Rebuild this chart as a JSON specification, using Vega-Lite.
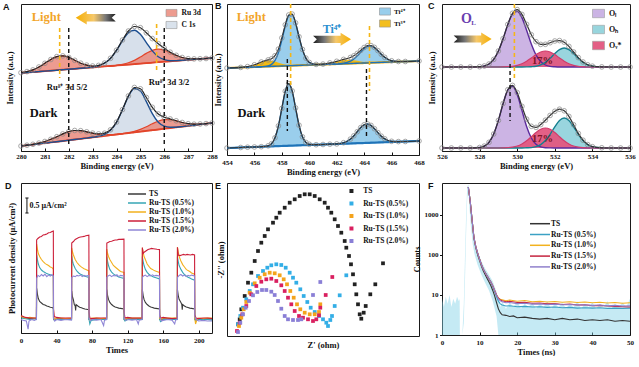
{
"$schema": "https://vega.github.io/schema/vega-lite/v6.json",
"background": "white",
"padding": {"left": 2, "top": 1, "right": 0, "bottom": 0},
"columns": 5,
"bounds": "flush",
"align": "each",
"spacing": {"row": 28, "column": 0},
"resolve": {"scale": {"color": "independent"}, "legend": {"color": "independent"}},
"config": {
  "font": "Liberation Serif",
  "view": {"stroke": "#1a1a1a", "strokeWidth": 1},
  "axis": {"domain": false, "grid": false, "labelFont": "Liberation Serif", "labelFontWeight": "bold", "labelFontSize": 7, "labelColor": "#111", "titleFont": "Liberation Serif", "titleFontWeight": "bold", "titleFontSize": 8.5, "titleColor": "#111", "tickColor": "#111", "tickSize": -3, "labelPadding": 4, "titlePadding": 2, "labelFlush": false, "labelOverlap": false},
  "legend": {"labelFont": "Liberation Serif", "labelFontWeight": "bold", "labelFontSize": 7.5, "labelColor": "#111", "padding": 0},
  "title": {"anchor": "start", "frame": "group", "font": "Liberation Sans", "fontSize": 9, "fontWeight": "bold", "color": "#111", "offset": -8},
  "text": {"font": "Liberation Serif", "fontWeight": "bold"}
},
"datasets": {
"a": [
{"x":280,"s":"L","b":76,"r1":76.3,"c":76,"r2":76,"e":76.3},
{"x":280.25,"s":"L","b":76.5,"r1":77.4,"c":76.5,"r2":76.5,"e":77.4},
{"x":280.5,"s":"L","b":76.9,"r1":79.1,"c":76.9,"r2":76.9,"e":79.1},
{"x":280.75,"s":"L","b":77.4,"r1":82,"c":77.4,"r2":77.4,"e":82},
{"x":281,"s":"L","b":77.9,"r1":85.7,"c":77.9,"r2":77.9,"e":85.7},
{"x":281.25,"s":"L","b":78.3,"r1":89.5,"c":78.3,"r2":78.3,"e":89.5},
{"x":281.5,"s":"L","b":78.8,"r1":92.4,"c":78.8,"r2":78.8,"e":92.4},
{"x":281.75,"s":"L","b":79.3,"r1":93.1,"c":79.3,"r2":79.3,"e":93.1},
{"x":282,"s":"L","b":79.8,"r1":91.6,"c":79.8,"r2":79.8,"e":91.6},
{"x":282.25,"s":"L","b":80.2,"r1":88.7,"c":80.2,"r2":80.2,"e":88.7},
{"x":282.5,"s":"L","b":80.7,"r1":85.8,"c":80.7,"r2":80.7,"e":85.8},
{"x":282.75,"s":"L","b":81.2,"r1":83.8,"c":81.3,"r2":81.2,"e":83.9},
{"x":283,"s":"L","b":81.6,"r1":82.7,"c":81.9,"r2":81.6,"e":83},
{"x":283.25,"s":"L","b":82.1,"r1":82.5,"c":83.2,"r2":82.1,"e":83.6},
{"x":283.5,"s":"L","b":82.6,"r1":82.7,"c":85.8,"r2":82.6,"e":85.9},
{"x":283.75,"s":"L","b":83,"r1":83,"c":90.7,"r2":83,"e":90.7},
{"x":284,"s":"L","b":83.5,"r1":83.5,"c":98.6,"r2":83.7,"e":98.8},
{"x":284.25,"s":"L","b":84,"r1":84,"c":108.3,"r2":84.7,"e":109},
{"x":284.5,"s":"L","b":84.4,"r1":84.4,"c":116.2,"r2":86.2,"e":118},
{"x":284.75,"s":"L","b":84.9,"r1":84.9,"c":118.8,"r2":88.6,"e":122.5},
{"x":285,"s":"L","b":85.4,"r1":85.4,"c":114.7,"r2":92,"e":121.3},
{"x":285.25,"s":"L","b":85.8,"r1":85.8,"c":106.4,"r2":95.6,"e":116.2},
{"x":285.5,"s":"L","b":86.3,"r1":86.3,"c":98.1,"r2":98.6,"e":110.4},
{"x":285.75,"s":"L","b":86.8,"r1":86.8,"c":92.3,"r2":99.8,"e":105.3},
{"x":286,"s":"L","b":87.3,"r1":87.3,"c":89.4,"r2":98.8,"e":100.9},
{"x":286.25,"s":"L","b":87.7,"r1":87.7,"c":88.3,"r2":96.2,"e":96.8},
{"x":286.5,"s":"L","b":88.2,"r1":88.2,"c":88.4,"r2":93.5,"e":93.7},
{"x":286.75,"s":"L","b":88.7,"r1":88.7,"c":88.7,"r2":91.5,"e":91.5},
{"x":287,"s":"L","b":89.1,"r1":89.1,"c":89.1,"r2":90.3,"e":90.3},
{"x":287.25,"s":"L","b":89.6,"r1":89.6,"c":89.6,"r2":90.1,"e":90.1},
{"x":287.5,"s":"L","b":90.1,"r1":90.1,"c":90.1,"r2":90.2,"e":90.2},
{"x":287.75,"s":"L","b":90.5,"r1":90.5,"c":90.5,"r2":90.5,"e":90.5},
{"x":288,"s":"L","b":91,"r1":91,"c":91,"r2":91,"e":91},
{"x":280,"s":"D","b":3,"r1":3,"c":3,"r2":3,"e":3},
{"x":280.25,"s":"D","b":3.7,"r1":3.8,"c":3.7,"r2":3.7,"e":3.8},
{"x":280.5,"s":"D","b":4.4,"r1":4.7,"c":4.4,"r2":4.4,"e":4.7},
{"x":280.75,"s":"D","b":5.2,"r1":5.9,"c":5.2,"r2":5.2,"e":5.9},
{"x":281,"s":"D","b":5.9,"r1":7.5,"c":5.9,"r2":5.9,"e":7.5},
{"x":281.25,"s":"D","b":6.6,"r1":9.7,"c":6.6,"r2":6.6,"e":9.7},
{"x":281.5,"s":"D","b":7.3,"r1":12.3,"c":7.3,"r2":7.3,"e":12.3},
{"x":281.75,"s":"D","b":8,"r1":15.1,"c":8,"r2":8,"e":15.1},
{"x":282,"s":"D","b":8.8,"r1":17.4,"c":8.8,"r2":8.8,"e":17.4},
{"x":282.25,"s":"D","b":9.5,"r1":18.5,"c":9.5,"r2":9.5,"e":18.5},
{"x":282.5,"s":"D","b":10.2,"r1":18.3,"c":10.2,"r2":10.2,"e":18.3},
{"x":282.75,"s":"D","b":10.9,"r1":17.2,"c":10.9,"r2":10.9,"e":17.2},
{"x":283,"s":"D","b":11.6,"r1":15.8,"c":11.7,"r2":11.6,"e":15.9},
{"x":283.25,"s":"D","b":12.3,"r1":14.7,"c":12.7,"r2":12.3,"e":15.1},
{"x":283.5,"s":"D","b":13.1,"r1":14.3,"c":14.6,"r2":13.1,"e":15.8},
{"x":283.75,"s":"D","b":13.8,"r1":14.3,"c":18.7,"r2":13.8,"e":19.2},
{"x":284,"s":"D","b":14.5,"r1":14.7,"c":26.7,"r2":14.5,"e":26.9},
{"x":284.25,"s":"D","b":15.2,"r1":15.3,"c":39.2,"r2":15.3,"e":39.4},
{"x":284.5,"s":"D","b":15.9,"r1":15.9,"c":52.7,"r2":16.3,"e":53.1},
{"x":284.75,"s":"D","b":16.7,"r1":16.7,"c":60.5,"r2":17.7,"e":61.5},
{"x":285,"s":"D","b":17.4,"r1":17.4,"c":58,"r2":19.6,"e":60.2},
{"x":285.25,"s":"D","b":18.1,"r1":18.1,"c":47.4,"r2":22.2,"e":51.5},
{"x":285.5,"s":"D","b":18.8,"r1":18.8,"c":35.3,"r2":25.2,"e":41.7},
{"x":285.75,"s":"D","b":19.5,"r1":19.5,"c":26.7,"r2":27.8,"e":35},
{"x":286,"s":"D","b":20.3,"r1":20.3,"c":22.8,"r2":29.3,"e":31.8},
{"x":286.25,"s":"D","b":21,"r1":21,"c":21.7,"r2":29.3,"e":30},
{"x":286.5,"s":"D","b":21.7,"r1":21.7,"c":21.8,"r2":28.1,"e":28.2},
{"x":286.75,"s":"D","b":22.4,"r1":22.4,"c":22.4,"r2":26.5,"e":26.5},
{"x":287,"s":"D","b":23.1,"r1":23.1,"c":23.1,"r2":25.3,"e":25.3},
{"x":287.25,"s":"D","b":23.8,"r1":23.8,"c":23.8,"r2":24.8,"e":24.8},
{"x":287.5,"s":"D","b":24.6,"r1":24.6,"c":24.6,"r2":25,"e":25},
{"x":287.75,"s":"D","b":25.3,"r1":25.3,"c":25.3,"r2":25.4,"e":25.4},
{"x":288,"s":"D","b":26,"r1":26,"c":26,"r2":26,"e":26}
],
"b": [
{"x":454,"s":"L","b":87,"t1":87,"t2":87,"r1":87,"r2":87,"e":87},
{"x":455,"s":"L","b":87.5,"t1":87.5,"t2":87.5,"r1":87.6,"r2":87.5,"e":87.6},
{"x":455.5,"s":"L","b":87.8,"t1":87.8,"t2":87.8,"r1":88.4,"r2":87.8,"e":88.4},
{"x":456,"s":"L","b":88,"t1":88,"t2":88,"r1":90.2,"r2":88,"e":90.2},
{"x":456.5,"s":"L","b":88.3,"t1":88.3,"t2":88.3,"r1":93,"r2":88.3,"e":93},
{"x":457,"s":"L","b":88.5,"t1":89.1,"t2":88.5,"r1":94.5,"r2":88.5,"e":95.1},
{"x":457.25,"s":"L","b":88.6,"t1":90.6,"t2":88.6,"r1":94.2,"r2":88.6,"e":96.2},
{"x":457.5,"s":"L","b":88.8,"t1":94.6,"t2":88.8,"r1":93.5,"r2":88.8,"e":99.3},
{"x":457.75,"s":"L","b":88.9,"t1":102.5,"t2":88.9,"r1":92.3,"r2":88.9,"e":105.9},
{"x":458,"s":"L","b":89,"t1":114.9,"t2":89,"r1":91.2,"r2":89,"e":117.1},
{"x":458.25,"s":"L","b":89.1,"t1":129,"t2":89.1,"r1":90.3,"r2":89.1,"e":130.2},
{"x":458.5,"s":"L","b":89.3,"t1":139.4,"t2":89.3,"r1":89.9,"r2":89.3,"e":140},
{"x":458.75,"s":"L","b":89.4,"t1":140.6,"t2":89.4,"r1":89.7,"r2":89.4,"e":140.9},
{"x":459,"s":"L","b":89.5,"t1":132,"t2":89.5,"r1":89.6,"r2":89.5,"e":132.1},
{"x":459.25,"s":"L","b":89.6,"t1":118.3,"t2":89.6,"r1":89.6,"r2":89.6,"e":118.3},
{"x":459.5,"s":"L","b":89.8,"t1":105.6,"t2":89.8,"r1":89.8,"r2":89.8,"e":105.6},
{"x":459.75,"s":"L","b":89.9,"t1":96.9,"t2":89.9,"r1":89.9,"r2":89.9,"e":96.9},
{"x":460,"s":"L","b":90,"t1":92.6,"t2":90,"r1":90,"r2":90,"e":92.6},
{"x":460.5,"s":"L","b":90.3,"t1":90.5,"t2":90.3,"r1":90.3,"r2":90.4,"e":90.6},
{"x":461,"s":"L","b":90.5,"t1":90.5,"t2":90.5,"r1":90.5,"r2":90.9,"e":90.9},
{"x":461.5,"s":"L","b":90.8,"t1":90.8,"t2":90.8,"r1":90.8,"r2":92.1,"e":92.1},
{"x":462,"s":"L","b":91,"t1":91,"t2":91,"r1":91,"r2":93.7,"e":93.7},
{"x":462.5,"s":"L","b":91.3,"t1":91.3,"t2":91.7,"r1":91.3,"r2":95.2,"e":95.6},
{"x":463,"s":"L","b":91.5,"t1":91.5,"t2":93.8,"r1":91.5,"r2":95.2,"e":97.5},
{"x":463.25,"s":"L","b":91.6,"t1":91.6,"t2":96,"r1":91.6,"r2":94.8,"e":99.2},
{"x":463.5,"s":"L","b":91.8,"t1":91.8,"t2":99.2,"r1":91.8,"r2":94.2,"e":101.6},
{"x":463.75,"s":"L","b":91.9,"t1":91.9,"t2":102.9,"r1":91.9,"r2":93.6,"e":104.6},
{"x":464,"s":"L","b":92,"t1":92,"t2":106.4,"r1":92,"r2":93.1,"e":107.5},
{"x":464.25,"s":"L","b":92.1,"t1":92.1,"t2":108.7,"r1":92.1,"r2":92.7,"e":109.3},
{"x":464.5,"s":"L","b":92.3,"t1":92.3,"t2":109.1,"r1":92.3,"r2":92.6,"e":109.4},
{"x":464.75,"s":"L","b":92.4,"t1":92.4,"t2":107.4,"r1":92.4,"r2":92.6,"e":107.6},
{"x":465,"s":"L","b":92.5,"t1":92.5,"t2":104.3,"r1":92.5,"r2":92.6,"e":104.4},
{"x":465.25,"s":"L","b":92.6,"t1":92.6,"t2":100.7,"r1":92.6,"r2":92.6,"e":100.7},
{"x":465.5,"s":"L","b":92.8,"t1":92.8,"t2":97.7,"r1":92.8,"r2":92.8,"e":97.7},
{"x":466,"s":"L","b":93,"t1":93,"t2":94.2,"r1":93,"r2":93,"e":94.2},
{"x":466.5,"s":"L","b":93.3,"t1":93.3,"t2":93.5,"r1":93.3,"r2":93.3,"e":93.5},
{"x":467,"s":"L","b":93.5,"t1":93.5,"t2":93.5,"r1":93.5,"r2":93.5,"e":93.5},
{"x":468,"s":"L","b":94,"t1":94,"t2":94,"r1":94,"r2":94,"e":94},
{"x":454,"s":"D","b":7,"t1":7,"t2":7,"e":7},
{"x":455,"s":"D","b":7.5,"t1":7.5,"t2":7.5,"e":7.5},
{"x":455.5,"s":"D","b":7.8,"t1":7.8,"t2":7.8,"e":7.8},
{"x":456,"s":"D","b":8,"t1":8,"t2":8,"e":8},
{"x":456.5,"s":"D","b":8.3,"t1":8.3,"t2":8.3,"e":8.3},
{"x":457,"s":"D","b":8.5,"t1":9.2,"t2":8.5,"e":9.2},
{"x":457.25,"s":"D","b":8.6,"t1":11.3,"t2":8.6,"e":11.3},
{"x":457.5,"s":"D","b":8.8,"t1":17.2,"t2":8.8,"e":17.2},
{"x":457.75,"s":"D","b":8.9,"t1":29.1,"t2":8.9,"e":29.1},
{"x":458,"s":"D","b":9,"t1":46.6,"t2":9,"e":46.6},
{"x":458.25,"s":"D","b":9.1,"t1":63.8,"t2":9.1,"e":63.8},
{"x":458.5,"s":"D","b":9.3,"t1":71.3,"t2":9.3,"e":71.3},
{"x":458.75,"s":"D","b":9.4,"t1":64.1,"t2":9.4,"e":64.1},
{"x":459,"s":"D","b":9.5,"t1":47.1,"t2":9.5,"e":47.1},
{"x":459.25,"s":"D","b":9.6,"t1":29.8,"t2":9.6,"e":29.8},
{"x":459.5,"s":"D","b":9.8,"t1":18.2,"t2":9.8,"e":18.2},
{"x":459.75,"s":"D","b":9.9,"t1":12.6,"t2":9.9,"e":12.6},
{"x":460,"s":"D","b":10,"t1":10.7,"t2":10,"e":10.7},
{"x":460.5,"s":"D","b":10.3,"t1":10.3,"t2":10.3,"e":10.3},
{"x":461,"s":"D","b":10.5,"t1":10.5,"t2":10.5,"e":10.5},
{"x":461.5,"s":"D","b":10.8,"t1":10.8,"t2":10.8,"e":10.8},
{"x":462,"s":"D","b":11,"t1":11,"t2":11.1,"e":11.1},
{"x":462.5,"s":"D","b":11.3,"t1":11.3,"t2":12.3,"e":12.3},
{"x":463,"s":"D","b":11.5,"t1":11.5,"t2":15.9,"e":15.9},
{"x":463.25,"s":"D","b":11.6,"t1":11.6,"t2":19.2,"e":19.2},
{"x":463.5,"s":"D","b":11.8,"t1":11.8,"t2":23.3,"e":23.3},
{"x":463.75,"s":"D","b":11.9,"t1":11.9,"t2":27.4,"e":27.4},
{"x":464,"s":"D","b":12,"t1":12,"t2":30.2,"e":30.2},
{"x":464.25,"s":"D","b":12.1,"t1":12.1,"t2":31,"e":31},
{"x":464.5,"s":"D","b":12.3,"t1":12.3,"t2":29.6,"e":29.6},
{"x":464.75,"s":"D","b":12.4,"t1":12.4,"t2":26.3,"e":26.3},
{"x":465,"s":"D","b":12.5,"t1":12.5,"t2":22.4,"e":22.4},
{"x":465.25,"s":"D","b":12.6,"t1":12.6,"t2":18.8,"e":18.8},
{"x":465.5,"s":"D","b":12.8,"t1":12.8,"t2":16.2,"e":16.2},
{"x":466,"s":"D","b":13,"t1":13,"t2":13.7,"e":13.7},
{"x":466.5,"s":"D","b":13.3,"t1":13.3,"t2":13.4,"e":13.4},
{"x":467,"s":"D","b":13.5,"t1":13.5,"t2":13.5,"e":13.5},
{"x":468,"s":"D","b":14,"t1":14,"t2":14,"e":14}
],
"c": [
{"x":526,"s":"L","b":84,"l":84,"v":84,"h":84,"e":84},
{"x":526.5,"s":"L","b":84,"l":84,"v":84,"h":84,"e":84},
{"x":527,"s":"L","b":84,"l":84,"v":84,"h":84,"e":84},
{"x":527.5,"s":"L","b":84,"l":84,"v":84,"h":84,"e":84},
{"x":528,"s":"L","b":84,"l":84.3,"v":84,"h":84,"e":84.3},
{"x":528.25,"s":"L","b":84,"l":85,"v":84,"h":84,"e":85},
{"x":528.5,"s":"L","b":84,"l":87,"v":84,"h":84,"e":87},
{"x":528.75,"s":"L","b":84,"l":91.6,"v":84,"h":84,"e":91.6},
{"x":529,"s":"L","b":84,"l":100,"v":84,"h":84,"e":100},
{"x":529.25,"s":"L","b":84,"l":112.3,"v":84.1,"h":84,"e":112.4},
{"x":529.5,"s":"L","b":84,"l":126.3,"v":84.3,"h":84,"e":126.6},
{"x":529.75,"s":"L","b":84,"l":137,"v":84.7,"h":84,"e":137.7},
{"x":530,"s":"L","b":84,"l":139.8,"v":85.6,"h":84,"e":141.4},
{"x":530.25,"s":"L","b":84,"l":133.4,"v":87.2,"h":84,"e":136.6},
{"x":530.5,"s":"L","b":84,"l":120.8,"v":89.8,"h":84.1,"e":126.7},
{"x":530.75,"s":"L","b":84,"l":107,"v":93,"h":84.3,"e":116.3},
{"x":531,"s":"L","b":84,"l":96.1,"v":96.4,"h":84.8,"e":109.3},
{"x":531.25,"s":"L","b":84,"l":89.4,"v":99,"h":86.2,"e":106.6},
{"x":531.5,"s":"L","b":84,"l":86,"v":100,"h":88.7,"e":106.7},
{"x":531.75,"s":"L","b":84,"l":84.6,"v":99,"h":92.7,"e":108.3},
{"x":532,"s":"L","b":84,"l":84.2,"v":96.4,"h":97.4,"e":110},
{"x":532.25,"s":"L","b":84,"l":84,"v":93,"h":101.4,"e":110.4},
{"x":532.5,"s":"L","b":84,"l":84,"v":89.8,"h":103,"e":108.8},
{"x":532.75,"s":"L","b":84,"l":84,"v":87.2,"h":101.4,"e":104.6},
{"x":533,"s":"L","b":84,"l":84,"v":85.6,"h":97.4,"e":99},
{"x":533.25,"s":"L","b":84,"l":84,"v":84.7,"h":92.7,"e":93.4},
{"x":533.5,"s":"L","b":84,"l":84,"v":84.3,"h":88.7,"e":89},
{"x":533.75,"s":"L","b":84,"l":84,"v":84,"h":86.2,"e":86.2},
{"x":534,"s":"L","b":84,"l":84,"v":84,"h":84.8,"e":84.8},
{"x":534.5,"s":"L","b":84,"l":84,"v":84,"h":84.1,"e":84.1},
{"x":535,"s":"L","b":84,"l":84,"v":84,"h":84,"e":84},
{"x":535.5,"s":"L","b":84,"l":84,"v":84,"h":84,"e":84},
{"x":536,"s":"L","b":84,"l":84,"v":84,"h":84,"e":84},
{"x":526,"s":"D","b":3,"l":3,"v":3,"h":3,"e":3},
{"x":526.5,"s":"D","b":3,"l":3,"v":3,"h":3,"e":3},
{"x":527,"s":"D","b":3,"l":3,"v":3,"h":3,"e":3},
{"x":527.5,"s":"D","b":3,"l":3,"v":3,"h":3,"e":3},
{"x":528,"s":"D","b":3,"l":3.5,"v":3,"h":3,"e":3.5},
{"x":528.25,"s":"D","b":3,"l":4.9,"v":3,"h":3,"e":4.9},
{"x":528.5,"s":"D","b":3,"l":8.7,"v":3,"h":3,"e":8.7},
{"x":528.75,"s":"D","b":3,"l":17,"v":3,"h":3,"e":17},
{"x":529,"s":"D","b":3,"l":30.6,"v":3,"h":3,"e":30.6},
{"x":529.25,"s":"D","b":3,"l":47.4,"v":3.1,"h":3,"e":47.5},
{"x":529.5,"s":"D","b":3,"l":61,"v":3.3,"h":3,"e":61.3},
{"x":529.75,"s":"D","b":3,"l":64.7,"v":3.9,"h":3,"e":65.6},
{"x":530,"s":"D","b":3,"l":56.4,"v":5,"h":3,"e":58.4},
{"x":530.25,"s":"D","b":3,"l":40.6,"v":7.1,"h":3,"e":44.7},
{"x":530.5,"s":"D","b":3,"l":24.5,"v":10.2,"h":3.2,"e":31.9},
{"x":530.75,"s":"D","b":3,"l":13,"v":14.3,"h":3.4,"e":24.7},
{"x":531,"s":"D","b":3,"l":6.8,"v":18.5,"h":4.3,"e":23.6},
{"x":531.25,"s":"D","b":3,"l":4.2,"v":21.8,"h":6.4,"e":26.4},
{"x":531.5,"s":"D","b":3,"l":3.3,"v":23,"h":10.5,"e":30.8},
{"x":531.75,"s":"D","b":3,"l":3.1,"v":21.8,"h":16.7,"e":35.6},
{"x":532,"s":"D","b":3,"l":3,"v":18.5,"h":24.2,"e":39.7},
{"x":532.25,"s":"D","b":3,"l":3,"v":14.3,"h":30.5,"e":41.8},
{"x":532.5,"s":"D","b":3,"l":3,"v":10.2,"h":33,"e":40.2},
{"x":532.75,"s":"D","b":3,"l":3,"v":7.1,"h":30.5,"e":34.6},
{"x":533,"s":"D","b":3,"l":3,"v":5,"h":24.2,"e":26.2},
{"x":533.25,"s":"D","b":3,"l":3,"v":3.9,"h":16.7,"e":17.6},
{"x":533.5,"s":"D","b":3,"l":3,"v":3.3,"h":10.5,"e":10.8},
{"x":533.75,"s":"D","b":3,"l":3,"v":3,"h":6.4,"e":6.4},
{"x":534,"s":"D","b":3,"l":3,"v":3,"h":4.3,"e":4.3},
{"x":534.5,"s":"D","b":3,"l":3,"v":3,"h":3.2,"e":3.2},
{"x":535,"s":"D","b":3,"l":3,"v":3,"h":3,"e":3},
{"x":535.5,"s":"D","b":3,"l":3,"v":3,"h":3,"e":3},
{"x":536,"s":"D","b":3,"l":3,"v":3,"h":3,"e":3}
],
"d": [
{"t":0,"s":"TS","j":0.55},{"t":5,"s":"TS","j":0.5},{"t":10,"s":"TS","j":0.48},{"t":15,"s":"TS","j":0.48},{"t":17.4,"s":"TS","j":0.48},{"t":17.6,"s":"TS","j":1.5},{"t":18.5,"s":"TS","j":1.3},{"t":19.5,"s":"TS","j":1.15},{"t":21,"s":"TS","j":1.05},{"t":23,"s":"TS","j":1},{"t":25,"s":"TS","j":0.95},{"t":27,"s":"TS","j":0.93},{"t":29,"s":"TS","j":0.9},{"t":31,"s":"TS","j":0.88},{"t":33,"s":"TS","j":0.86},{"t":35,"s":"TS","j":0.85},{"t":36.4,"s":"TS","j":0.82},{"t":36.6,"s":"TS","j":0.45},{"t":38,"s":"TS","j":0.45},{"t":40,"s":"TS","j":0.47},{"t":45,"s":"TS","j":0.47},{"t":50,"s":"TS","j":0.47},{"t":56.9,"s":"TS","j":0.47},
{"t":57.1,"s":"TS","j":1.4},{"t":58,"s":"TS","j":1.2},{"t":59,"s":"TS","j":1.1},{"t":60,"s":"TS","j":0.95},{"t":61,"s":"TS","j":0.9},{"t":61.5,"s":"TS","j":0.75},{"t":62,"s":"TS","j":0.95},{"t":64,"s":"TS","j":0.9},{"t":66,"s":"TS","j":0.86},{"t":68,"s":"TS","j":0.84},{"t":70,"s":"TS","j":0.82},{"t":72,"s":"TS","j":0.8},{"t":76.4,"s":"TS","j":0.78},{"t":76.6,"s":"TS","j":0.45},{"t":78,"s":"TS","j":0.45},{"t":80,"s":"TS","j":0.47},{"t":85,"s":"TS","j":0.47},{"t":90,"s":"TS","j":0.47},{"t":96.4,"s":"TS","j":0.47},
{"t":96.6,"s":"TS","j":1.45},{"t":97.5,"s":"TS","j":1.25},{"t":98.5,"s":"TS","j":1.12},{"t":100,"s":"TS","j":1.02},{"t":102,"s":"TS","j":0.95},{"t":104,"s":"TS","j":0.9},{"t":106,"s":"TS","j":0.87},{"t":108,"s":"TS","j":0.85},{"t":110,"s":"TS","j":0.83},{"t":112,"s":"TS","j":0.82},{"t":115.9,"s":"TS","j":0.8},{"t":116.1,"s":"TS","j":0.45},{"t":118,"s":"TS","j":0.45},{"t":120,"s":"TS","j":0.47},{"t":125,"s":"TS","j":0.47},{"t":130,"s":"TS","j":0.47},{"t":136.4,"s":"TS","j":0.47},
{"t":136.6,"s":"TS","j":1.45},{"t":137.5,"s":"TS","j":1.25},{"t":138.5,"s":"TS","j":1.12},{"t":140,"s":"TS","j":1.02},{"t":142,"s":"TS","j":0.95},{"t":144,"s":"TS","j":0.9},{"t":146,"s":"TS","j":0.87},{"t":148,"s":"TS","j":0.85},{"t":150,"s":"TS","j":0.83},{"t":152,"s":"TS","j":0.82},{"t":155.9,"s":"TS","j":0.8},{"t":156.1,"s":"TS","j":0.45},{"t":158,"s":"TS","j":0.45},{"t":160,"s":"TS","j":0.47},{"t":165,"s":"TS","j":0.47},{"t":170,"s":"TS","j":0.47},{"t":175.9,"s":"TS","j":0.47},
{"t":176.1,"s":"TS","j":1.45},{"t":177,"s":"TS","j":1.25},{"t":178,"s":"TS","j":1.12},{"t":180,"s":"TS","j":1.02},{"t":181,"s":"TS","j":0.95},{"t":181.5,"s":"TS","j":0.78},{"t":182,"s":"TS","j":0.95},{"t":184,"s":"TS","j":0.9},{"t":186,"s":"TS","j":0.87},{"t":188,"s":"TS","j":0.85},{"t":190,"s":"TS","j":0.83},{"t":192,"s":"TS","j":0.82},{"t":195.4,"s":"TS","j":0.8},{"t":195.6,"s":"TS","j":0.45},{"t":197,"s":"TS","j":0.45},{"t":200,"s":"TS","j":0.47},{"t":205,"s":"TS","j":0.47},{"t":210,"s":"TS","j":0.47},{"t":215,"s":"TS","j":0.47},
{"t":0,"s":"Ru-TS (0.5%)","j":0.5},{"t":5,"s":"Ru-TS (0.5%)","j":0.48},{"t":10,"s":"Ru-TS (0.5%)","j":0.45},{"t":15,"s":"Ru-TS (0.5%)","j":0.48},{"t":17.4,"s":"Ru-TS (0.5%)","j":0.45},{"t":17.6,"s":"Ru-TS (0.5%)","j":2.62},{"t":18.5,"s":"Ru-TS (0.5%)","j":2.45},{"t":19.5,"s":"Ru-TS (0.5%)","j":2.3},{"t":21,"s":"Ru-TS (0.5%)","j":2.18},{"t":23,"s":"Ru-TS (0.5%)","j":2.1},{"t":25,"s":"Ru-TS (0.5%)","j":2.05},{"t":27,"s":"Ru-TS (0.5%)","j":2.02},{"t":29,"s":"Ru-TS (0.5%)","j":1.98},{"t":31,"s":"Ru-TS (0.5%)","j":1.96},{"t":33,"s":"Ru-TS (0.5%)","j":1.94},{"t":35,"s":"Ru-TS (0.5%)","j":1.92},{"t":36.4,"s":"Ru-TS (0.5%)","j":1.9},{"t":36.6,"s":"Ru-TS (0.5%)","j":0.5},{"t":37.5,"s":"Ru-TS (0.5%)","j":0.42},{"t":40,"s":"Ru-TS (0.5%)","j":0.45},{"t":45,"s":"Ru-TS (0.5%)","j":0.45},{"t":50,"s":"Ru-TS (0.5%)","j":0.45},{"t":56.9,"s":"Ru-TS (0.5%)","j":0.45},
{"t":57.1,"s":"Ru-TS (0.5%)","j":2.58},{"t":58,"s":"Ru-TS (0.5%)","j":2.4},{"t":59,"s":"Ru-TS (0.5%)","j":2.28},{"t":61,"s":"Ru-TS (0.5%)","j":2.15},{"t":63,"s":"Ru-TS (0.5%)","j":2.06},{"t":65,"s":"Ru-TS (0.5%)","j":2},{"t":67,"s":"Ru-TS (0.5%)","j":1.96},{"t":69,"s":"Ru-TS (0.5%)","j":1.93},{"t":71,"s":"Ru-TS (0.5%)","j":1.9},{"t":73,"s":"Ru-TS (0.5%)","j":1.88},{"t":76.4,"s":"Ru-TS (0.5%)","j":1.85},{"t":76.6,"s":"Ru-TS (0.5%)","j":0.45},{"t":77.5,"s":"Ru-TS (0.5%)","j":0.3},{"t":79,"s":"Ru-TS (0.5%)","j":0.42},{"t":85,"s":"Ru-TS (0.5%)","j":0.45},{"t":90,"s":"Ru-TS (0.5%)","j":0.45},{"t":96.4,"s":"Ru-TS (0.5%)","j":0.45},
{"t":96.6,"s":"Ru-TS (0.5%)","j":2.55},{"t":97.5,"s":"Ru-TS (0.5%)","j":2.38},{"t":98.5,"s":"Ru-TS (0.5%)","j":2.25},{"t":100,"s":"Ru-TS (0.5%)","j":2.12},{"t":102,"s":"Ru-TS (0.5%)","j":2.03},{"t":104,"s":"Ru-TS (0.5%)","j":1.97},{"t":106,"s":"Ru-TS (0.5%)","j":1.93},{"t":108,"s":"Ru-TS (0.5%)","j":1.9},{"t":110,"s":"Ru-TS (0.5%)","j":1.87},{"t":112,"s":"Ru-TS (0.5%)","j":1.85},{"t":115.9,"s":"Ru-TS (0.5%)","j":1.82},{"t":116.1,"s":"Ru-TS (0.5%)","j":0.45},{"t":117,"s":"Ru-TS (0.5%)","j":0.4},{"t":120,"s":"Ru-TS (0.5%)","j":0.45},{"t":125,"s":"Ru-TS (0.5%)","j":0.45},{"t":130,"s":"Ru-TS (0.5%)","j":0.45},{"t":136.4,"s":"Ru-TS (0.5%)","j":0.45},
{"t":136.6,"s":"Ru-TS (0.5%)","j":2.55},{"t":137.5,"s":"Ru-TS (0.5%)","j":2.38},{"t":138.5,"s":"Ru-TS (0.5%)","j":2.25},{"t":140,"s":"Ru-TS (0.5%)","j":2.12},{"t":142,"s":"Ru-TS (0.5%)","j":2.02},{"t":144,"s":"Ru-TS (0.5%)","j":1.96},{"t":146,"s":"Ru-TS (0.5%)","j":1.92},{"t":148,"s":"Ru-TS (0.5%)","j":1.88},{"t":150,"s":"Ru-TS (0.5%)","j":1.86},{"t":152,"s":"Ru-TS (0.5%)","j":1.84},{"t":155.9,"s":"Ru-TS (0.5%)","j":1.8},{"t":156.1,"s":"Ru-TS (0.5%)","j":0.45},{"t":157,"s":"Ru-TS (0.5%)","j":0.38},{"t":160,"s":"Ru-TS (0.5%)","j":0.45},{"t":165,"s":"Ru-TS (0.5%)","j":0.45},{"t":170,"s":"Ru-TS (0.5%)","j":0.45},{"t":175.9,"s":"Ru-TS (0.5%)","j":0.45},
{"t":176.1,"s":"Ru-TS (0.5%)","j":2.55},{"t":177,"s":"Ru-TS (0.5%)","j":2.38},{"t":178,"s":"Ru-TS (0.5%)","j":2.25},{"t":180,"s":"Ru-TS (0.5%)","j":2.12},{"t":182,"s":"Ru-TS (0.5%)","j":2.02},{"t":184,"s":"Ru-TS (0.5%)","j":1.95},{"t":186,"s":"Ru-TS (0.5%)","j":1.9},{"t":188,"s":"Ru-TS (0.5%)","j":1.86},{"t":190,"s":"Ru-TS (0.5%)","j":1.83},{"t":192,"s":"Ru-TS (0.5%)","j":1.8},{"t":195.4,"s":"Ru-TS (0.5%)","j":1.76},{"t":195.6,"s":"Ru-TS (0.5%)","j":0.45},{"t":197,"s":"Ru-TS (0.5%)","j":0.4},{"t":200,"s":"Ru-TS (0.5%)","j":0.45},{"t":205,"s":"Ru-TS (0.5%)","j":0.45},{"t":210,"s":"Ru-TS (0.5%)","j":0.45},{"t":215,"s":"Ru-TS (0.5%)","j":0.43},
{"t":0,"s":"Ru-TS (1.0%)","j":0.55},{"t":5,"s":"Ru-TS (1.0%)","j":0.5},{"t":10,"s":"Ru-TS (1.0%)","j":0.52},{"t":15,"s":"Ru-TS (1.0%)","j":0.5},{"t":17.4,"s":"Ru-TS (1.0%)","j":0.5},{"t":17.6,"s":"Ru-TS (1.0%)","j":2.96},{"t":18.5,"s":"Ru-TS (1.0%)","j":2.8},{"t":19.5,"s":"Ru-TS (1.0%)","j":2.65},{"t":21,"s":"Ru-TS (1.0%)","j":2.55},{"t":23,"s":"Ru-TS (1.0%)","j":2.45},{"t":25,"s":"Ru-TS (1.0%)","j":2.38},{"t":27,"s":"Ru-TS (1.0%)","j":2.32},{"t":29,"s":"Ru-TS (1.0%)","j":2.28},{"t":31,"s":"Ru-TS (1.0%)","j":2.25},{"t":33,"s":"Ru-TS (1.0%)","j":2.2},{"t":35,"s":"Ru-TS (1.0%)","j":2.18},{"t":36.4,"s":"Ru-TS (1.0%)","j":2.12},{"t":36.6,"s":"Ru-TS (1.0%)","j":0.6},{"t":37.5,"s":"Ru-TS (1.0%)","j":0.45},{"t":40,"s":"Ru-TS (1.0%)","j":0.5},{"t":45,"s":"Ru-TS (1.0%)","j":0.5},{"t":50,"s":"Ru-TS (1.0%)","j":0.48},{"t":56.9,"s":"Ru-TS (1.0%)","j":0.5},
{"t":57.1,"s":"Ru-TS (1.0%)","j":2.84},{"t":58,"s":"Ru-TS (1.0%)","j":2.7},{"t":59,"s":"Ru-TS (1.0%)","j":2.6},{"t":61,"s":"Ru-TS (1.0%)","j":2.45},{"t":63,"s":"Ru-TS (1.0%)","j":2.35},{"t":65,"s":"Ru-TS (1.0%)","j":2.28},{"t":67,"s":"Ru-TS (1.0%)","j":2.22},{"t":69,"s":"Ru-TS (1.0%)","j":2.18},{"t":71,"s":"Ru-TS (1.0%)","j":2.14},{"t":73,"s":"Ru-TS (1.0%)","j":2.12},{"t":76.4,"s":"Ru-TS (1.0%)","j":2.07},{"t":76.6,"s":"Ru-TS (1.0%)","j":0.55},{"t":77.5,"s":"Ru-TS (1.0%)","j":0.45},{"t":80,"s":"Ru-TS (1.0%)","j":0.5},{"t":85,"s":"Ru-TS (1.0%)","j":0.5},{"t":90,"s":"Ru-TS (1.0%)","j":0.48},{"t":96.4,"s":"Ru-TS (1.0%)","j":0.5},
{"t":96.6,"s":"Ru-TS (1.0%)","j":2.8},{"t":97.5,"s":"Ru-TS (1.0%)","j":2.65},{"t":98.5,"s":"Ru-TS (1.0%)","j":2.55},{"t":100,"s":"Ru-TS (1.0%)","j":2.45},{"t":102,"s":"Ru-TS (1.0%)","j":2.35},{"t":104,"s":"Ru-TS (1.0%)","j":2.25},{"t":106,"s":"Ru-TS (1.0%)","j":2.2},{"t":108,"s":"Ru-TS (1.0%)","j":2.15},{"t":110,"s":"Ru-TS (1.0%)","j":2.1},{"t":112,"s":"Ru-TS (1.0%)","j":2.05},{"t":115.9,"s":"Ru-TS (1.0%)","j":2.02},{"t":116.1,"s":"Ru-TS (1.0%)","j":0.55},{"t":117,"s":"Ru-TS (1.0%)","j":0.45},{"t":120,"s":"Ru-TS (1.0%)","j":0.5},{"t":125,"s":"Ru-TS (1.0%)","j":0.5},{"t":130,"s":"Ru-TS (1.0%)","j":0.5},{"t":136.4,"s":"Ru-TS (1.0%)","j":0.5},
{"t":136.6,"s":"Ru-TS (1.0%)","j":2.84},{"t":137.5,"s":"Ru-TS (1.0%)","j":2.7},{"t":138.5,"s":"Ru-TS (1.0%)","j":2.55},{"t":140,"s":"Ru-TS (1.0%)","j":2.45},{"t":142,"s":"Ru-TS (1.0%)","j":2.3},{"t":144,"s":"Ru-TS (1.0%)","j":2.22},{"t":146,"s":"Ru-TS (1.0%)","j":2.15},{"t":148,"s":"Ru-TS (1.0%)","j":2.12},{"t":150,"s":"Ru-TS (1.0%)","j":2.08},{"t":152,"s":"Ru-TS (1.0%)","j":2.06},{"t":155.9,"s":"Ru-TS (1.0%)","j":2.02},{"t":156.1,"s":"Ru-TS (1.0%)","j":0.5},{"t":157,"s":"Ru-TS (1.0%)","j":0.45},{"t":160,"s":"Ru-TS (1.0%)","j":0.5},{"t":165,"s":"Ru-TS (1.0%)","j":0.5},{"t":170,"s":"Ru-TS (1.0%)","j":0.5},{"t":175.9,"s":"Ru-TS (1.0%)","j":0.5},
{"t":176.1,"s":"Ru-TS (1.0%)","j":2.86},{"t":177,"s":"Ru-TS (1.0%)","j":2.7},{"t":178,"s":"Ru-TS (1.0%)","j":2.55},{"t":180,"s":"Ru-TS (1.0%)","j":2.4},{"t":182,"s":"Ru-TS (1.0%)","j":2.28},{"t":184,"s":"Ru-TS (1.0%)","j":2.2},{"t":186,"s":"Ru-TS (1.0%)","j":2.12},{"t":188,"s":"Ru-TS (1.0%)","j":2.08},{"t":190,"s":"Ru-TS (1.0%)","j":2.05},{"t":192,"s":"Ru-TS (1.0%)","j":2},{"t":195.4,"s":"Ru-TS (1.0%)","j":1.96},{"t":195.6,"s":"Ru-TS (1.0%)","j":0.5},{"t":196.5,"s":"Ru-TS (1.0%)","j":0.3},{"t":198,"s":"Ru-TS (1.0%)","j":0.45},{"t":200,"s":"Ru-TS (1.0%)","j":0.5},{"t":205,"s":"Ru-TS (1.0%)","j":0.48},{"t":210,"s":"Ru-TS (1.0%)","j":0.5},{"t":215,"s":"Ru-TS (1.0%)","j":0.5},
{"t":0,"s":"Ru-TS (1.5%)","j":0.58},{"t":5,"s":"Ru-TS (1.5%)","j":0.52},{"t":10,"s":"Ru-TS (1.5%)","j":0.5},{"t":15,"s":"Ru-TS (1.5%)","j":0.5},{"t":17.4,"s":"Ru-TS (1.5%)","j":0.5},{"t":17.6,"s":"Ru-TS (1.5%)","j":3.1},{"t":19,"s":"Ru-TS (1.5%)","j":3.15},{"t":21,"s":"Ru-TS (1.5%)","j":3.2},{"t":23,"s":"Ru-TS (1.5%)","j":3.22},{"t":25,"s":"Ru-TS (1.5%)","j":3.27},{"t":27,"s":"Ru-TS (1.5%)","j":3.28},{"t":29,"s":"Ru-TS (1.5%)","j":3.3},{"t":31,"s":"Ru-TS (1.5%)","j":3.34},{"t":33,"s":"Ru-TS (1.5%)","j":3.35},{"t":35,"s":"Ru-TS (1.5%)","j":3.38},{"t":36.4,"s":"Ru-TS (1.5%)","j":3.4},{"t":36.6,"s":"Ru-TS (1.5%)","j":0.8},{"t":37.5,"s":"Ru-TS (1.5%)","j":0.55},{"t":40,"s":"Ru-TS (1.5%)","j":0.52},{"t":45,"s":"Ru-TS (1.5%)","j":0.5},{"t":50,"s":"Ru-TS (1.5%)","j":0.5},{"t":56.9,"s":"Ru-TS (1.5%)","j":0.5},
{"t":57.1,"s":"Ru-TS (1.5%)","j":3},{"t":59,"s":"Ru-TS (1.5%)","j":3.05},{"t":61,"s":"Ru-TS (1.5%)","j":3.12},{"t":63,"s":"Ru-TS (1.5%)","j":3.15},{"t":65,"s":"Ru-TS (1.5%)","j":3.18},{"t":67,"s":"Ru-TS (1.5%)","j":3.2},{"t":69,"s":"Ru-TS (1.5%)","j":3.21},{"t":71,"s":"Ru-TS (1.5%)","j":3.22},{"t":73,"s":"Ru-TS (1.5%)","j":3.24},{"t":76.4,"s":"Ru-TS (1.5%)","j":3.26},{"t":76.6,"s":"Ru-TS (1.5%)","j":0.7},{"t":77.5,"s":"Ru-TS (1.5%)","j":0.5},{"t":80,"s":"Ru-TS (1.5%)","j":0.48},{"t":85,"s":"Ru-TS (1.5%)","j":0.5},{"t":90,"s":"Ru-TS (1.5%)","j":0.5},{"t":96.4,"s":"Ru-TS (1.5%)","j":0.5},
{"t":96.6,"s":"Ru-TS (1.5%)","j":3},{"t":98,"s":"Ru-TS (1.5%)","j":3.02},{"t":100,"s":"Ru-TS (1.5%)","j":3.05},{"t":102,"s":"Ru-TS (1.5%)","j":3.06},{"t":104,"s":"Ru-TS (1.5%)","j":3.08},{"t":106,"s":"Ru-TS (1.5%)","j":3.1},{"t":108,"s":"Ru-TS (1.5%)","j":3.1},{"t":110,"s":"Ru-TS (1.5%)","j":3.12},{"t":112,"s":"Ru-TS (1.5%)","j":3.12},{"t":115.9,"s":"Ru-TS (1.5%)","j":3.13},{"t":116.1,"s":"Ru-TS (1.5%)","j":0.7},{"t":117,"s":"Ru-TS (1.5%)","j":0.5},{"t":120,"s":"Ru-TS (1.5%)","j":0.52},{"t":125,"s":"Ru-TS (1.5%)","j":0.5},{"t":130,"s":"Ru-TS (1.5%)","j":0.5},{"t":136.4,"s":"Ru-TS (1.5%)","j":0.5},
{"t":136.6,"s":"Ru-TS (1.5%)","j":2.85},{"t":137.5,"s":"Ru-TS (1.5%)","j":2.65},{"t":139,"s":"Ru-TS (1.5%)","j":2.7},{"t":141,"s":"Ru-TS (1.5%)","j":2.74},{"t":143,"s":"Ru-TS (1.5%)","j":2.78},{"t":145,"s":"Ru-TS (1.5%)","j":2.8},{"t":147,"s":"Ru-TS (1.5%)","j":2.82},{"t":149,"s":"Ru-TS (1.5%)","j":2.81},{"t":151,"s":"Ru-TS (1.5%)","j":2.8},{"t":153,"s":"Ru-TS (1.5%)","j":2.79},{"t":155.9,"s":"Ru-TS (1.5%)","j":2.78},{"t":156.1,"s":"Ru-TS (1.5%)","j":0.6},{"t":157,"s":"Ru-TS (1.5%)","j":0.5},{"t":160,"s":"Ru-TS (1.5%)","j":0.52},{"t":165,"s":"Ru-TS (1.5%)","j":0.5},{"t":170,"s":"Ru-TS (1.5%)","j":0.48},{"t":175.9,"s":"Ru-TS (1.5%)","j":0.5},
{"t":176.1,"s":"Ru-TS (1.5%)","j":2.86},{"t":177,"s":"Ru-TS (1.5%)","j":2.6},{"t":179,"s":"Ru-TS (1.5%)","j":2.58},{"t":181,"s":"Ru-TS (1.5%)","j":2.6},{"t":183,"s":"Ru-TS (1.5%)","j":2.62},{"t":185,"s":"Ru-TS (1.5%)","j":2.6},{"t":187,"s":"Ru-TS (1.5%)","j":2.62},{"t":189,"s":"Ru-TS (1.5%)","j":2.61},{"t":191,"s":"Ru-TS (1.5%)","j":2.6},{"t":193,"s":"Ru-TS (1.5%)","j":2.62},{"t":195.4,"s":"Ru-TS (1.5%)","j":2.6},{"t":195.6,"s":"Ru-TS (1.5%)","j":0.6},{"t":197,"s":"Ru-TS (1.5%)","j":0.5},{"t":200,"s":"Ru-TS (1.5%)","j":0.48},{"t":205,"s":"Ru-TS (1.5%)","j":0.5},{"t":210,"s":"Ru-TS (1.5%)","j":0.5},{"t":215,"s":"Ru-TS (1.5%)","j":0.48},
{"t":0,"s":"Ru-TS (2.0%)","j":0.45},{"t":3,"s":"Ru-TS (2.0%)","j":0.42},{"t":6,"s":"Ru-TS (2.0%)","j":0.4},{"t":8,"s":"Ru-TS (2.0%)","j":0.13},{"t":9,"s":"Ru-TS (2.0%)","j":0.4},{"t":12,"s":"Ru-TS (2.0%)","j":0.45},{"t":15,"s":"Ru-TS (2.0%)","j":0.42},{"t":17.4,"s":"Ru-TS (2.0%)","j":0.45},{"t":17.6,"s":"Ru-TS (2.0%)","j":1.82},{"t":19,"s":"Ru-TS (2.0%)","j":1.92},{"t":21,"s":"Ru-TS (2.0%)","j":1.88},{"t":23,"s":"Ru-TS (2.0%)","j":1.95},{"t":25,"s":"Ru-TS (2.0%)","j":1.9},{"t":27,"s":"Ru-TS (2.0%)","j":1.96},{"t":29,"s":"Ru-TS (2.0%)","j":1.88},{"t":31,"s":"Ru-TS (2.0%)","j":1.93},{"t":33,"s":"Ru-TS (2.0%)","j":1.9},{"t":35,"s":"Ru-TS (2.0%)","j":1.95},{"t":36.4,"s":"Ru-TS (2.0%)","j":1.9},{"t":36.6,"s":"Ru-TS (2.0%)","j":0.5},{"t":38,"s":"Ru-TS (2.0%)","j":0.4},{"t":40,"s":"Ru-TS (2.0%)","j":0.45},{"t":45,"s":"Ru-TS (2.0%)","j":0.42},{"t":50,"s":"Ru-TS (2.0%)","j":0.45},{"t":56.9,"s":"Ru-TS (2.0%)","j":0.43},
{"t":57.1,"s":"Ru-TS (2.0%)","j":1.85},{"t":59,"s":"Ru-TS (2.0%)","j":1.9},{"t":61,"s":"Ru-TS (2.0%)","j":1.88},{"t":63,"s":"Ru-TS (2.0%)","j":1.92},{"t":65,"s":"Ru-TS (2.0%)","j":1.9},{"t":67,"s":"Ru-TS (2.0%)","j":1.93},{"t":69,"s":"Ru-TS (2.0%)","j":1.88},{"t":71,"s":"Ru-TS (2.0%)","j":1.92},{"t":73,"s":"Ru-TS (2.0%)","j":1.9},{"t":76.4,"s":"Ru-TS (2.0%)","j":1.92},{"t":76.6,"s":"Ru-TS (2.0%)","j":0.5},{"t":78,"s":"Ru-TS (2.0%)","j":0.42},{"t":80,"s":"Ru-TS (2.0%)","j":0.45},{"t":85,"s":"Ru-TS (2.0%)","j":0.43},{"t":90,"s":"Ru-TS (2.0%)","j":0.45},{"t":93,"s":"Ru-TS (2.0%)","j":0.25},{"t":94,"s":"Ru-TS (2.0%)","j":0.43},{"t":96.4,"s":"Ru-TS (2.0%)","j":0.45},
{"t":96.6,"s":"Ru-TS (2.0%)","j":1.85},{"t":98,"s":"Ru-TS (2.0%)","j":1.9},{"t":100,"s":"Ru-TS (2.0%)","j":1.93},{"t":102,"s":"Ru-TS (2.0%)","j":1.88},{"t":104,"s":"Ru-TS (2.0%)","j":1.92},{"t":106,"s":"Ru-TS (2.0%)","j":1.9},{"t":108,"s":"Ru-TS (2.0%)","j":1.94},{"t":110,"s":"Ru-TS (2.0%)","j":1.88},{"t":112,"s":"Ru-TS (2.0%)","j":1.92},{"t":115.9,"s":"Ru-TS (2.0%)","j":1.9},{"t":116.1,"s":"Ru-TS (2.0%)","j":0.5},{"t":118,"s":"Ru-TS (2.0%)","j":0.42},{"t":120,"s":"Ru-TS (2.0%)","j":0.45},{"t":125,"s":"Ru-TS (2.0%)","j":0.43},{"t":130,"s":"Ru-TS (2.0%)","j":0.45},{"t":132,"s":"Ru-TS (2.0%)","j":0.3},{"t":133,"s":"Ru-TS (2.0%)","j":0.43},{"t":136.4,"s":"Ru-TS (2.0%)","j":0.45},
{"t":136.6,"s":"Ru-TS (2.0%)","j":1.85},{"t":138,"s":"Ru-TS (2.0%)","j":1.9},{"t":140,"s":"Ru-TS (2.0%)","j":1.93},{"t":142,"s":"Ru-TS (2.0%)","j":1.88},{"t":144,"s":"Ru-TS (2.0%)","j":1.92},{"t":146,"s":"Ru-TS (2.0%)","j":1.9},{"t":148,"s":"Ru-TS (2.0%)","j":1.94},{"t":150,"s":"Ru-TS (2.0%)","j":1.9},{"t":152,"s":"Ru-TS (2.0%)","j":1.92},{"t":155.9,"s":"Ru-TS (2.0%)","j":1.9},{"t":156.1,"s":"Ru-TS (2.0%)","j":0.55},{"t":158,"s":"Ru-TS (2.0%)","j":0.4},{"t":160,"s":"Ru-TS (2.0%)","j":0.42},{"t":165,"s":"Ru-TS (2.0%)","j":0.45},{"t":170,"s":"Ru-TS (2.0%)","j":0.43},{"t":173,"s":"Ru-TS (2.0%)","j":0.3},{"t":174,"s":"Ru-TS (2.0%)","j":0.43},{"t":175.9,"s":"Ru-TS (2.0%)","j":0.45},
{"t":176.1,"s":"Ru-TS (2.0%)","j":1.85},{"t":178,"s":"Ru-TS (2.0%)","j":1.92},{"t":180,"s":"Ru-TS (2.0%)","j":1.95},{"t":182,"s":"Ru-TS (2.0%)","j":1.9},{"t":184,"s":"Ru-TS (2.0%)","j":1.93},{"t":186,"s":"Ru-TS (2.0%)","j":1.88},{"t":188,"s":"Ru-TS (2.0%)","j":1.92},{"t":190,"s":"Ru-TS (2.0%)","j":1.9},{"t":192,"s":"Ru-TS (2.0%)","j":1.93},{"t":195.4,"s":"Ru-TS (2.0%)","j":1.9},{"t":195.6,"s":"Ru-TS (2.0%)","j":0.55},{"t":197,"s":"Ru-TS (2.0%)","j":0.45},{"t":200,"s":"Ru-TS (2.0%)","j":0.4},{"t":205,"s":"Ru-TS (2.0%)","j":0.42},{"t":210,"s":"Ru-TS (2.0%)","j":0.4},{"t":215,"s":"Ru-TS (2.0%)","j":0.4}
],
"e": [
{"x":11,"y":11.7,"s":"TS"},{"x":12.7,"y":16.7,"s":"TS"},{"x":14.3,"y":26.7,"s":"TS"},{"x":17.7,"y":40,"s":"TS"},{"x":21,"y":53.3,"s":"TS"},{"x":24.3,"y":63.3,"s":"TS"},{"x":27.7,"y":75,"s":"TS"},{"x":31,"y":85,"s":"TS"},{"x":34.3,"y":93.3,"s":"TS"},{"x":37.7,"y":100,"s":"TS"},{"x":41,"y":106.7,"s":"TS"},{"x":46,"y":113.3,"s":"TS"},{"x":49.3,"y":118.3,"s":"TS"},{"x":52.7,"y":123.3,"s":"TS"},{"x":57.7,"y":128.3,"s":"TS"},{"x":62.7,"y":133.3,"s":"TS"},{"x":67.7,"y":136.7,"s":"TS"},{"x":72.7,"y":140,"s":"TS"},{"x":77.7,"y":141.7,"s":"TS"},{"x":82.7,"y":141.7,"s":"TS"},{"x":87.7,"y":140,"s":"TS"},{"x":92.7,"y":136.7,"s":"TS"},{"x":97.7,"y":133.3,"s":"TS"},{"x":101,"y":128.3,"s":"TS"},{"x":104.3,"y":123.3,"s":"TS"},{"x":107.7,"y":116.7,"s":"TS"},{"x":111,"y":110,"s":"TS"},{"x":114.3,"y":103.3,"s":"TS"},{"x":117.7,"y":95,"s":"TS"},{"x":119.3,"y":88.3,"s":"TS"},{"x":122,"y":80,"s":"TS"},{"x":124,"y":71.7,"s":"TS"},{"x":126,"y":61.7,"s":"TS"},{"x":127.7,"y":51.7,"s":"TS"},{"x":129.3,"y":41.7,"s":"TS"},{"x":131,"y":31.7,"s":"TS"},{"x":132.7,"y":21.7,"s":"TS"},{"x":134.3,"y":17.3,"s":"TS"},{"x":136.7,"y":23.3,"s":"TS"},{"x":138.7,"y":30,"s":"TS"},{"x":143.3,"y":41.7,"s":"TS"},{"x":148.3,"y":51.7,"s":"TS"},{"x":156,"y":72.7,"s":"TS"},
{"x":11,"y":11.7,"s":"Ru-TS (0.5%)"},{"x":13.3,"y":20,"s":"Ru-TS (0.5%)"},{"x":16,"y":28.3,"s":"Ru-TS (0.5%)"},{"x":19.3,"y":36.7,"s":"Ru-TS (0.5%)"},{"x":22.7,"y":45,"s":"Ru-TS (0.5%)"},{"x":26,"y":51.7,"s":"Ru-TS (0.5%)"},{"x":31,"y":60,"s":"Ru-TS (0.5%)"},{"x":36,"y":65,"s":"Ru-TS (0.5%)"},{"x":40.3,"y":68.3,"s":"Ru-TS (0.5%)"},{"x":44.3,"y":70.7,"s":"Ru-TS (0.5%)"},{"x":49.3,"y":71.7,"s":"Ru-TS (0.5%)"},{"x":54.3,"y":71,"s":"Ru-TS (0.5%)"},{"x":58.7,"y":68.3,"s":"Ru-TS (0.5%)"},{"x":62.7,"y":63.3,"s":"Ru-TS (0.5%)"},{"x":66,"y":58.3,"s":"Ru-TS (0.5%)"},{"x":69.3,"y":53.3,"s":"Ru-TS (0.5%)"},{"x":73.3,"y":46.7,"s":"Ru-TS (0.5%)"},{"x":76.7,"y":40,"s":"Ru-TS (0.5%)"},{"x":80.3,"y":34,"s":"Ru-TS (0.5%)"},{"x":83.7,"y":28.3,"s":"Ru-TS (0.5%)"},{"x":87.7,"y":24,"s":"Ru-TS (0.5%)"},{"x":92,"y":20,"s":"Ru-TS (0.5%)"},{"x":96,"y":16.7,"s":"Ru-TS (0.5%)"},{"x":99.3,"y":13.3,"s":"Ru-TS (0.5%)"},{"x":101,"y":10,"s":"Ru-TS (0.5%)"},{"x":103.3,"y":16,"s":"Ru-TS (0.5%)"},{"x":105,"y":20,"s":"Ru-TS (0.5%)"},{"x":107.7,"y":30,"s":"Ru-TS (0.5%)"},{"x":112.7,"y":40.7,"s":"Ru-TS (0.5%)"},{"x":119.3,"y":60.7,"s":"Ru-TS (0.5%)"},
{"x":12,"y":10,"s":"Ru-TS (1.0%)"},{"x":14.3,"y":18.3,"s":"Ru-TS (1.0%)"},{"x":16.7,"y":26.7,"s":"Ru-TS (1.0%)"},{"x":19.3,"y":34,"s":"Ru-TS (1.0%)"},{"x":22.7,"y":43.3,"s":"Ru-TS (1.0%)"},{"x":27.7,"y":52.7,"s":"Ru-TS (1.0%)"},{"x":32.7,"y":58.3,"s":"Ru-TS (1.0%)"},{"x":37.7,"y":61.7,"s":"Ru-TS (1.0%)"},{"x":42.7,"y":63.3,"s":"Ru-TS (1.0%)"},{"x":47.7,"y":62.7,"s":"Ru-TS (1.0%)"},{"x":52.7,"y":60.7,"s":"Ru-TS (1.0%)"},{"x":56.7,"y":56.7,"s":"Ru-TS (1.0%)"},{"x":60,"y":51.7,"s":"Ru-TS (1.0%)"},{"x":63.3,"y":45,"s":"Ru-TS (1.0%)"},{"x":66.7,"y":38.3,"s":"Ru-TS (1.0%)"},{"x":70,"y":31.7,"s":"Ru-TS (1.0%)"},{"x":73.3,"y":26.7,"s":"Ru-TS (1.0%)"},{"x":77.7,"y":23.3,"s":"Ru-TS (1.0%)"},{"x":82.7,"y":21.7,"s":"Ru-TS (1.0%)"},{"x":87.7,"y":21.7,"s":"Ru-TS (1.0%)"},{"x":92,"y":24,"s":"Ru-TS (1.0%)"},{"x":93.3,"y":31.7,"s":"Ru-TS (1.0%)"},
{"x":10,"y":5,"s":"Ru-TS (1.5%)"},{"x":12.7,"y":13.3,"s":"Ru-TS (1.5%)"},{"x":15.3,"y":21.7,"s":"Ru-TS (1.5%)"},{"x":19.3,"y":30,"s":"Ru-TS (1.5%)"},{"x":24.3,"y":41.7,"s":"Ru-TS (1.5%)"},{"x":29.3,"y":50,"s":"Ru-TS (1.5%)"},{"x":34.3,"y":54.3,"s":"Ru-TS (1.5%)"},{"x":39.3,"y":56.7,"s":"Ru-TS (1.5%)"},{"x":44.3,"y":57.3,"s":"Ru-TS (1.5%)"},{"x":49.3,"y":55,"s":"Ru-TS (1.5%)"},{"x":54.3,"y":50.7,"s":"Ru-TS (1.5%)"},{"x":57.7,"y":45,"s":"Ru-TS (1.5%)"},{"x":61,"y":38.3,"s":"Ru-TS (1.5%)"},{"x":64.3,"y":31.7,"s":"Ru-TS (1.5%)"},{"x":67.7,"y":25,"s":"Ru-TS (1.5%)"},{"x":72,"y":20,"s":"Ru-TS (1.5%)"},{"x":76,"y":18.3,"s":"Ru-TS (1.5%)"},{"x":81,"y":16.7,"s":"Ru-TS (1.5%)"},{"x":86,"y":15,"s":"Ru-TS (1.5%)"},{"x":89.3,"y":16.7,"s":"Ru-TS (1.5%)"},{"x":92,"y":20.7,"s":"Ru-TS (1.5%)"},{"x":93.3,"y":28.3,"s":"Ru-TS (1.5%)"},{"x":98.7,"y":41,"s":"Ru-TS (1.5%)"},{"x":105.3,"y":59,"s":"Ru-TS (1.5%)"},
{"x":11,"y":4,"s":"Ru-TS (2.0%)"},{"x":13.3,"y":13.3,"s":"Ru-TS (2.0%)"},{"x":16,"y":21.7,"s":"Ru-TS (2.0%)"},{"x":18.7,"y":28.3,"s":"Ru-TS (2.0%)"},{"x":22,"y":35,"s":"Ru-TS (2.0%)"},{"x":26,"y":40.7,"s":"Ru-TS (2.0%)"},{"x":30.3,"y":44,"s":"Ru-TS (2.0%)"},{"x":35,"y":46,"s":"Ru-TS (2.0%)"},{"x":39.3,"y":46,"s":"Ru-TS (2.0%)"},{"x":44.3,"y":44.3,"s":"Ru-TS (2.0%)"},{"x":47.7,"y":41,"s":"Ru-TS (2.0%)"},{"x":51,"y":35,"s":"Ru-TS (2.0%)"},{"x":54.3,"y":27.3,"s":"Ru-TS (2.0%)"},{"x":57.7,"y":20,"s":"Ru-TS (2.0%)"},{"x":61,"y":16.7,"s":"Ru-TS (2.0%)"},{"x":66,"y":16,"s":"Ru-TS (2.0%)"},{"x":71,"y":16,"s":"Ru-TS (2.0%)"},{"x":74.3,"y":16.7,"s":"Ru-TS (2.0%)"},{"x":86,"y":41,"s":"Ru-TS (2.0%)"},{"x":93.3,"y":54,"s":"Ru-TS (2.0%)"}
],
"f": [
{"t":7,"s":"TS","c":5000},{"t":7.5,"s":"TS","c":2200},{"t":8,"s":"TS","c":750},{"t":8.5,"s":"TS","c":260},{"t":9,"s":"TS","c":150},{"t":9.5,"s":"TS","c":100},{"t":10,"s":"TS","c":72},{"t":10.5,"s":"TS","c":52},{"t":11,"s":"TS","c":40},{"t":11.5,"s":"TS","c":32},{"t":12,"s":"TS","c":26},{"t":12.5,"s":"TS","c":21},{"t":13,"s":"TS","c":17},{"t":13.5,"s":"TS","c":13},{"t":14,"s":"TS","c":9.5},{"t":14.5,"s":"TS","c":6.5},{"t":15,"s":"TS","c":4.5},{"t":15.5,"s":"TS","c":3.6},{"t":16,"s":"TS","c":3.2},{"t":17,"s":"TS","c":3.1},{"t":18,"s":"TS","c":2.9},{"t":19,"s":"TS","c":3},{"t":20,"s":"TS","c":2.7},{"t":22,"s":"TS","c":2.8},{"t":24,"s":"TS","c":2.6},{"t":26,"s":"TS","c":2.5},{"t":28,"s":"TS","c":2.6},{"t":30,"s":"TS","c":2.4},{"t":32,"s":"TS","c":2.6},{"t":34,"s":"TS","c":2.4},{"t":36,"s":"TS","c":2.5},{"t":38,"s":"TS","c":2.3},{"t":40,"s":"TS","c":2.4},{"t":42,"s":"TS","c":2.3},{"t":44,"s":"TS","c":2.4},{"t":46,"s":"TS","c":2.2},{"t":48,"s":"TS","c":2.3},{"t":50,"s":"TS","c":2.2},
{"t":7,"s":"Ru-TS (0.5%)","c":5000},{"t":7.5,"s":"Ru-TS (0.5%)","c":2200},{"t":8,"s":"Ru-TS (0.5%)","c":750},{"t":8.5,"s":"Ru-TS (0.5%)","c":270},{"t":9,"s":"Ru-TS (0.5%)","c":160},{"t":9.5,"s":"Ru-TS (0.5%)","c":110},{"t":10,"s":"Ru-TS (0.5%)","c":78},{"t":10.5,"s":"Ru-TS (0.5%)","c":57},{"t":11,"s":"Ru-TS (0.5%)","c":44},{"t":11.5,"s":"Ru-TS (0.5%)","c":36},{"t":12,"s":"Ru-TS (0.5%)","c":30},{"t":12.5,"s":"Ru-TS (0.5%)","c":25},{"t":13,"s":"Ru-TS (0.5%)","c":21},{"t":13.5,"s":"Ru-TS (0.5%)","c":16},{"t":14,"s":"Ru-TS (0.5%)","c":12},{"t":14.5,"s":"Ru-TS (0.5%)","c":9},{"t":15,"s":"Ru-TS (0.5%)","c":7},{"t":15.5,"s":"Ru-TS (0.5%)","c":6},{"t":16,"s":"Ru-TS (0.5%)","c":5.6},{"t":17,"s":"Ru-TS (0.5%)","c":5.3},{"t":18,"s":"Ru-TS (0.5%)","c":5.4},{"t":20,"s":"Ru-TS (0.5%)","c":5.1},{"t":22,"s":"Ru-TS (0.5%)","c":5.2},{"t":24,"s":"Ru-TS (0.5%)","c":5},{"t":26,"s":"Ru-TS (0.5%)","c":5.1},{"t":28,"s":"Ru-TS (0.5%)","c":4.9},{"t":30,"s":"Ru-TS (0.5%)","c":5},{"t":32,"s":"Ru-TS (0.5%)","c":4.8},{"t":34,"s":"Ru-TS (0.5%)","c":4.9},{"t":36,"s":"Ru-TS (0.5%)","c":4.7},{"t":38,"s":"Ru-TS (0.5%)","c":4.8},{"t":40,"s":"Ru-TS (0.5%)","c":4.7},{"t":42,"s":"Ru-TS (0.5%)","c":4.8},{"t":44,"s":"Ru-TS (0.5%)","c":4.6},{"t":46,"s":"Ru-TS (0.5%)","c":4.7},{"t":48,"s":"Ru-TS (0.5%)","c":4.6},{"t":50,"s":"Ru-TS (0.5%)","c":4.7},
{"t":7,"s":"Ru-TS (1.0%)","c":5000},{"t":7.5,"s":"Ru-TS (1.0%)","c":2200},{"t":8,"s":"Ru-TS (1.0%)","c":750},{"t":8.5,"s":"Ru-TS (1.0%)","c":270},{"t":9,"s":"Ru-TS (1.0%)","c":160},{"t":9.5,"s":"Ru-TS (1.0%)","c":110},{"t":10,"s":"Ru-TS (1.0%)","c":78},{"t":10.5,"s":"Ru-TS (1.0%)","c":57},{"t":11,"s":"Ru-TS (1.0%)","c":44},{"t":11.5,"s":"Ru-TS (1.0%)","c":36},{"t":12,"s":"Ru-TS (1.0%)","c":30},{"t":12.5,"s":"Ru-TS (1.0%)","c":25},{"t":13,"s":"Ru-TS (1.0%)","c":21},{"t":13.5,"s":"Ru-TS (1.0%)","c":17},{"t":14,"s":"Ru-TS (1.0%)","c":13},{"t":14.5,"s":"Ru-TS (1.0%)","c":10},{"t":15,"s":"Ru-TS (1.0%)","c":8.5},{"t":15.5,"s":"Ru-TS (1.0%)","c":7.8},{"t":16,"s":"Ru-TS (1.0%)","c":7.6},{"t":17,"s":"Ru-TS (1.0%)","c":7.2},{"t":18,"s":"Ru-TS (1.0%)","c":7.5},{"t":20,"s":"Ru-TS (1.0%)","c":7},{"t":22,"s":"Ru-TS (1.0%)","c":7.3},{"t":24,"s":"Ru-TS (1.0%)","c":6.8},{"t":26,"s":"Ru-TS (1.0%)","c":7},{"t":28,"s":"Ru-TS (1.0%)","c":6.7},{"t":30,"s":"Ru-TS (1.0%)","c":6.9},{"t":32,"s":"Ru-TS (1.0%)","c":6.6},{"t":34,"s":"Ru-TS (1.0%)","c":6.8},{"t":36,"s":"Ru-TS (1.0%)","c":6.5},{"t":38,"s":"Ru-TS (1.0%)","c":6.7},{"t":40,"s":"Ru-TS (1.0%)","c":6.4},{"t":42,"s":"Ru-TS (1.0%)","c":6.6},{"t":44,"s":"Ru-TS (1.0%)","c":6.3},{"t":46,"s":"Ru-TS (1.0%)","c":6.5},{"t":48,"s":"Ru-TS (1.0%)","c":6.2},{"t":50,"s":"Ru-TS (1.0%)","c":6.4},
{"t":7,"s":"Ru-TS (1.5%)","c":5000},{"t":7.5,"s":"Ru-TS (1.5%)","c":2200},{"t":8,"s":"Ru-TS (1.5%)","c":750},{"t":8.5,"s":"Ru-TS (1.5%)","c":270},{"t":9,"s":"Ru-TS (1.5%)","c":160},{"t":9.5,"s":"Ru-TS (1.5%)","c":110},{"t":10,"s":"Ru-TS (1.5%)","c":78},{"t":10.5,"s":"Ru-TS (1.5%)","c":57},{"t":11,"s":"Ru-TS (1.5%)","c":44},{"t":11.5,"s":"Ru-TS (1.5%)","c":36},{"t":12,"s":"Ru-TS (1.5%)","c":30},{"t":12.5,"s":"Ru-TS (1.5%)","c":25},{"t":13,"s":"Ru-TS (1.5%)","c":21},{"t":13.5,"s":"Ru-TS (1.5%)","c":17},{"t":14,"s":"Ru-TS (1.5%)","c":13},{"t":14.5,"s":"Ru-TS (1.5%)","c":10},{"t":15,"s":"Ru-TS (1.5%)","c":8.3},{"t":15.5,"s":"Ru-TS (1.5%)","c":7.5},{"t":16,"s":"Ru-TS (1.5%)","c":7.2},{"t":17,"s":"Ru-TS (1.5%)","c":6.8},{"t":18,"s":"Ru-TS (1.5%)","c":7},{"t":20,"s":"Ru-TS (1.5%)","c":6.5},{"t":22,"s":"Ru-TS (1.5%)","c":6.6},{"t":24,"s":"Ru-TS (1.5%)","c":6.2},{"t":26,"s":"Ru-TS (1.5%)","c":6.3},{"t":28,"s":"Ru-TS (1.5%)","c":6},{"t":30,"s":"Ru-TS (1.5%)","c":6.1},{"t":32,"s":"Ru-TS (1.5%)","c":5.8},{"t":34,"s":"Ru-TS (1.5%)","c":5.9},{"t":36,"s":"Ru-TS (1.5%)","c":5.6},{"t":38,"s":"Ru-TS (1.5%)","c":5.7},{"t":40,"s":"Ru-TS (1.5%)","c":5.4},{"t":42,"s":"Ru-TS (1.5%)","c":5.5},{"t":44,"s":"Ru-TS (1.5%)","c":5.3},{"t":46,"s":"Ru-TS (1.5%)","c":5.2},{"t":48,"s":"Ru-TS (1.5%)","c":5.1},{"t":50,"s":"Ru-TS (1.5%)","c":5},
{"t":7,"s":"Ru-TS (2.0%)","c":5000},{"t":7.5,"s":"Ru-TS (2.0%)","c":2200},{"t":8,"s":"Ru-TS (2.0%)","c":750},{"t":8.5,"s":"Ru-TS (2.0%)","c":270},{"t":9,"s":"Ru-TS (2.0%)","c":160},{"t":9.5,"s":"Ru-TS (2.0%)","c":110},{"t":10,"s":"Ru-TS (2.0%)","c":78},{"t":10.5,"s":"Ru-TS (2.0%)","c":57},{"t":11,"s":"Ru-TS (2.0%)","c":44},{"t":11.5,"s":"Ru-TS (2.0%)","c":36},{"t":12,"s":"Ru-TS (2.0%)","c":30},{"t":12.5,"s":"Ru-TS (2.0%)","c":25},{"t":13,"s":"Ru-TS (2.0%)","c":21},{"t":13.5,"s":"Ru-TS (2.0%)","c":17},{"t":14,"s":"Ru-TS (2.0%)","c":13},{"t":14.5,"s":"Ru-TS (2.0%)","c":10},{"t":15,"s":"Ru-TS (2.0%)","c":8},{"t":15.5,"s":"Ru-TS (2.0%)","c":7.2},{"t":16,"s":"Ru-TS (2.0%)","c":6.8},{"t":17,"s":"Ru-TS (2.0%)","c":6.4},{"t":18,"s":"Ru-TS (2.0%)","c":6.5},{"t":20,"s":"Ru-TS (2.0%)","c":6.1},{"t":22,"s":"Ru-TS (2.0%)","c":6.2},{"t":24,"s":"Ru-TS (2.0%)","c":5.9},{"t":26,"s":"Ru-TS (2.0%)","c":6},{"t":28,"s":"Ru-TS (2.0%)","c":5.8},{"t":30,"s":"Ru-TS (2.0%)","c":5.9},{"t":32,"s":"Ru-TS (2.0%)","c":5.7},{"t":34,"s":"Ru-TS (2.0%)","c":5.8},{"t":36,"s":"Ru-TS (2.0%)","c":5.6},{"t":38,"s":"Ru-TS (2.0%)","c":5.7},{"t":40,"s":"Ru-TS (2.0%)","c":5.5},{"t":42,"s":"Ru-TS (2.0%)","c":5.6},{"t":44,"s":"Ru-TS (2.0%)","c":5.4},{"t":46,"s":"Ru-TS (2.0%)","c":5.5},{"t":48,"s":"Ru-TS (2.0%)","c":5.3},{"t":50,"s":"Ru-TS (2.0%)","c":5.4}
],
"irf": [
{"t":0,"lo":1,"hi":8},{"t":0.5,"lo":1,"hi":5},{"t":1,"lo":1,"hi":9},{"t":1.5,"lo":1,"hi":6},{"t":2,"lo":1,"hi":10},{"t":2.5,"lo":1,"hi":5},{"t":3,"lo":1,"hi":8},{"t":3.5,"lo":1,"hi":6},{"t":4,"lo":1,"hi":9},{"t":4.5,"lo":1,"hi":7},{"t":4.7,"lo":1,"hi":8},{"t":4.75,"lo":1,"hi":1},{"t":5.4,"lo":1,"hi":1},{"t":5.8,"lo":2,"hi":6},{"t":6.1,"lo":20,"hi":80},{"t":6.4,"lo":300,"hi":900},{"t":6.7,"lo":2500,"hi":5000},{"t":7,"lo":4000,"hi":5800},{"t":7.3,"lo":1500,"hi":3200},{"t":7.7,"lo":500,"hi":1100},{"t":8.2,"lo":180,"hi":380},{"t":8.7,"lo":100,"hi":210},{"t":9.5,"lo":55,"hi":120},{"t":10.5,"lo":32,"hi":70},{"t":11.5,"lo":20,"hi":45},{"t":12.5,"lo":13,"hi":32},{"t":13.5,"lo":7,"hi":22},{"t":14.5,"lo":3,"hi":12},{"t":15,"lo":1,"hi":8},{"t":15.5,"lo":1,"hi":5},{"t":16,"lo":1,"hi":7},{"t":17,"lo":1,"hi":4.5},{"t":18,"lo":1,"hi":6.5},{"t":19,"lo":1,"hi":5},{"t":20,"lo":1,"hi":7},{"t":21,"lo":1,"hi":4.5},{"t":22,"lo":1,"hi":6},{"t":23,"lo":1,"hi":5},{"t":24,"lo":1,"hi":6.5},{"t":25,"lo":1,"hi":4.5},{"t":26,"lo":1,"hi":6},{"t":27,"lo":1,"hi":5},{"t":28,"lo":1,"hi":7},{"t":29,"lo":1,"hi":4.5},{"t":30,"lo":1,"hi":6},{"t":31,"lo":1,"hi":5},{"t":32,"lo":1,"hi":6.5},{"t":33,"lo":1,"hi":4.5},{"t":34,"lo":1,"hi":6},{"t":35,"lo":1,"hi":5},{"t":36,"lo":1,"hi":7},{"t":37,"lo":1,"hi":4.5},{"t":38,"lo":1,"hi":6},{"t":39,"lo":1,"hi":5},{"t":40,"lo":1,"hi":6.5},{"t":41,"lo":1,"hi":4.5},{"t":42,"lo":1,"hi":6},{"t":43,"lo":1,"hi":5},{"t":44,"lo":1,"hi":7},{"t":45,"lo":1,"hi":4.5},{"t":46,"lo":1,"hi":6},{"t":47,"lo":1,"hi":5},{"t":48,"lo":1,"hi":6.5},{"t":49,"lo":1,"hi":5},{"t":50,"lo":1,"hi":8}
]
},
"concat": [
{
 "width": 191, "height": 147,
 "title": {"text": "A", "dx": -18},
 "data": {"name": "a"},
 "encoding": {
   "x": {"field": "x", "type": "quantitative", "scale": {"domain": [280, 288], "nice": false, "zero": false}, "axis": {"values": [280,281,282,283,284,285,286,287,288], "format": "d", "title": "Binding energy (eV)"}},
   "detail": {"field": "s"}
 },
 "layer": [
  {"mark": {"type": "area", "interpolate": "monotone", "opacity": 0.9}, "encoding": {"y": {"field": "c", "type": "quantitative", "scale": {"domain": [-2, 145], "nice": false, "zero": false}, "axis": {"labels": false, "ticks": false, "title": "Intensity (a.u.)", "titlePadding": 6.5}}, "y2": {"field": "b"}, "color": {"datum": "C 1s", "type": "nominal", "scale": {"domain": ["Ru 3d", "C 1s"], "range": ["#ea8a7c", "#d3dde9"]}, "legend": {"orient": "none", "legendX": 144.5, "legendY": 3, "title": null, "symbolType": "M-1,-0.65H1V0.65H-1Z", "symbolSize": 121, "symbolStrokeColor": "#888", "symbolStrokeWidth": 0.6, "symbolOpacity": 1, "rowPadding": 1, "labelOffset": 4}}}},
  {"mark": {"type": "area", "interpolate": "monotone", "opacity": 0.85}, "encoding": {"y": {"field": "r1", "type": "quantitative", "scale": {"domain": [-2, 145], "nice": false, "zero": false}, "axis": {"labels": false, "ticks": false, "title": "Intensity (a.u.)", "titlePadding": 6.5}}, "y2": {"field": "b"}, "color": {"datum": "Ru 3d", "type": "nominal"}}},
  {"mark": {"type": "area", "interpolate": "monotone", "opacity": 0.85}, "encoding": {"y": {"field": "r2", "type": "quantitative", "scale": {"domain": [-2, 145], "nice": false, "zero": false}, "axis": {"labels": false, "ticks": false, "title": "Intensity (a.u.)", "titlePadding": 6.5}}, "y2": {"field": "b"}, "color": {"datum": "Ru 3d", "type": "nominal"}}},
  {"mark": {"type": "line", "interpolate": "monotone", "color": "#e2452b", "strokeWidth": 1.8}, "encoding": {"y": {"field": "b", "type": "quantitative", "scale": {"domain": [-2, 145], "nice": false, "zero": false}, "axis": {"labels": false, "ticks": false, "title": "Intensity (a.u.)", "titlePadding": 6.5}}}},
  {"mark": {"type": "line", "interpolate": "monotone", "color": "#e2452b", "strokeWidth": 1.2}, "encoding": {"y": {"field": "r1", "type": "quantitative", "scale": {"domain": [-2, 145], "nice": false, "zero": false}, "axis": {"labels": false, "ticks": false, "title": "Intensity (a.u.)", "titlePadding": 6.5}}}},
  {"mark": {"type": "line", "interpolate": "monotone", "color": "#e2452b", "strokeWidth": 1.2}, "encoding": {"y": {"field": "r2", "type": "quantitative", "scale": {"domain": [-2, 145], "nice": false, "zero": false}, "axis": {"labels": false, "ticks": false, "title": "Intensity (a.u.)", "titlePadding": 6.5}}}},
  {"mark": {"type": "line", "interpolate": "monotone", "color": "#1d4f91", "strokeWidth": 1.4}, "encoding": {"y": {"field": "c", "type": "quantitative", "scale": {"domain": [-2, 145], "nice": false, "zero": false}, "axis": {"labels": false, "ticks": false, "title": "Intensity (a.u.)", "titlePadding": 6.5}}}},
  {"mark": {"type": "line", "interpolate": "monotone", "color": "#222", "strokeWidth": 1.2}, "encoding": {"y": {"field": "e", "type": "quantitative", "scale": {"domain": [-2, 145], "nice": false, "zero": false}, "axis": {"labels": false, "ticks": false, "title": "Intensity (a.u.)", "titlePadding": 6.5}}}},
  {"mark": {"type": "point", "shape": "circle", "size": 22, "filled": false, "color": "#888", "strokeWidth": 0.8, "opacity": 0.9}, "encoding": {"y": {"field": "e", "type": "quantitative", "scale": {"domain": [-2, 145], "nice": false, "zero": false}, "axis": {"labels": false, "ticks": false, "title": "Intensity (a.u.)", "titlePadding": 6.5}}}},
  {"data": {"values": [{"x": 281.62, "y1": 121, "y2": 71}, {"x": 285.68, "y1": 125, "y2": 76}]}, "mark": {"type": "rule", "color": "#f5b616", "strokeDash": [4, 3], "strokeWidth": 1.6}, "encoding": {"y": {"field": "y1", "type": "quantitative", "scale": {"domain": [-2, 145], "nice": false, "zero": false}, "axis": {"labels": false, "ticks": false, "title": "Intensity (a.u.)", "titlePadding": 6.5}}, "y2": {"field": "y2"}}},
  {"data": {"values": [{"x": 282, "y1": 121, "y2": 5}, {"x": 286, "y1": 121, "y2": 5}]}, "mark": {"type": "rule", "color": "#111", "strokeDash": [4, 3], "strokeWidth": 1.4}, "encoding": {"y": {"field": "y1", "type": "quantitative", "scale": {"domain": [-2, 145], "nice": false, "zero": false}, "axis": {"labels": false, "ticks": false, "title": "Intensity (a.u.)", "titlePadding": 6.5}}, "y2": {"field": "y2"}}},
  {"data": {"values": [{"x": 281.06, "y": 132.3, "t": "Light"}]}, "mark": {"type": "text", "fontSize": 12.5, "color": "#f2a52a", "baseline": "middle"}, "encoding": {"y": {"field": "y", "type": "quantitative", "scale": {"domain": [-2, 145], "nice": false, "zero": false}, "axis": {"labels": false, "ticks": false, "title": "Intensity (a.u.)", "titlePadding": 6.5}}, "text": {"field": "t"}}},
  {"data": {"values": [{"x": 280.95, "y": 36.3, "t": "Dark"}]}, "mark": {"type": "text", "fontSize": 12.5, "color": "#111", "baseline": "middle"}, "encoding": {"y": {"field": "y", "type": "quantitative", "scale": {"domain": [-2, 145], "nice": false, "zero": false}, "axis": {"labels": false, "ticks": false, "title": "Intensity (a.u.)", "titlePadding": 6.5}}, "text": {"field": "t"}}},
  {"data": {"values": [{"x": 281.93, "y": 62.3, "t": "Ruᵟ⁺ 3d 5/2"}, {"x": 286.2, "y": 67, "t": "Ruᵟ⁺ 3d 3/2"}]}, "mark": {"type": "text", "fontSize": 8.5, "color": "#111", "baseline": "middle"}, "encoding": {"y": {"field": "y", "type": "quantitative", "scale": {"domain": [-2, 145], "nice": false, "zero": false}, "axis": {"labels": false, "ticks": false, "title": "Intensity (a.u.)", "titlePadding": 6.5}}, "text": {"field": "t"}}},
  {"data": {"values": [{"x": 283.13, "y": 131.3}]}, "mark": {"type": "point", "shape": "M-1,0L-0.45,-0.34L-0.45,-0.19L1,-0.19L0.8,0L1,0.19L-0.45,0.19L-0.45,0.34Z", "size": 1600, "filled": true, "opacity": 1, "strokeWidth": 0, "fill": {"gradient": "linear", "x1": 0, "x2": 1, "y1": 0, "y2": 0, "stops": [{"offset": 0, "color": "#f5ae00"}, {"offset": 0.45, "color": "#f6c86a"}, {"offset": 0.75, "color": "#777777"}, {"offset": 1, "color": "#1a1a1a"}]}}, "encoding": {"y": {"field": "y", "type": "quantitative", "scale": {"domain": [-2, 145], "nice": false, "zero": false}, "axis": {"labels": false, "ticks": false, "title": "Intensity (a.u.)", "titlePadding": 6.5}}}}
 ]
},
{"width": 15, "height": 1, "data": {"values": []}, "mark": "point", "view": {"stroke": null}},
{
 "width": 192, "height": 151,
 "title": {"text": "B", "dx": -12},
 "data": {"name": "b"},
 "encoding": {
   "x": {"field": "x", "type": "quantitative", "scale": {"domain": [454, 468], "nice": false, "zero": false}, "axis": {"values": [454,456,458,460,462,464,466,468], "format": "d", "title": "Binding energy (eV)", "labelPadding": 6, "titlePadding": 2}},
   "detail": {"field": "s"}
 },
 "layer": [
  {"mark": {"type": "area", "interpolate": "monotone", "opacity": 0.9}, "encoding": {"y": {"field": "t1", "type": "quantitative", "scale": {"domain": [0, 151], "nice": false, "zero": false}, "axis": {"labels": false, "ticks": false, "title": "Intensity (a.u.)", "titlePadding": 4.5}}, "y2": {"field": "b"}, "color": {"datum": "Ti⁴⁺", "type": "nominal", "scale": {"domain": ["Ti⁴⁺", "Ti³⁺"], "range": ["#8fc9ea", "#f2b705"]}, "legend": {"orient": "none", "legendX": 152, "legendY": 1.5, "title": null, "symbolType": "M-1,-0.65H1V0.65H-1Z", "symbolSize": 121, "symbolStrokeColor": "#888", "symbolStrokeWidth": 0.6, "symbolOpacity": 1, "rowPadding": 1, "labelOffset": 3, "labelFontSize": 7}}}},
  {"mark": {"type": "area", "interpolate": "monotone", "opacity": 0.9}, "encoding": {"y": {"field": "t2", "type": "quantitative", "scale": {"domain": [0, 151], "nice": false, "zero": false}, "axis": {"labels": false, "ticks": false, "title": "Intensity (a.u.)", "titlePadding": 4.5}}, "y2": {"field": "b"}, "color": {"datum": "Ti⁴⁺", "type": "nominal"}}},
  {"mark": {"type": "area", "interpolate": "monotone", "opacity": 0.95}, "encoding": {"y": {"field": "r1", "type": "quantitative", "scale": {"domain": [0, 151], "nice": false, "zero": false}, "axis": {"labels": false, "ticks": false, "title": "Intensity (a.u.)", "titlePadding": 4.5}}, "y2": {"field": "b"}, "color": {"datum": "Ti³⁺", "type": "nominal"}}},
  {"mark": {"type": "area", "interpolate": "monotone", "opacity": 0.95}, "encoding": {"y": {"field": "r2", "type": "quantitative", "scale": {"domain": [0, 151], "nice": false, "zero": false}, "axis": {"labels": false, "ticks": false, "title": "Intensity (a.u.)", "titlePadding": 4.5}}, "y2": {"field": "b"}, "color": {"datum": "Ti³⁺", "type": "nominal"}}},
  {"transform": [{"filter": "datum.s == 'L'"}], "mark": {"type": "line", "interpolate": "monotone", "color": "#f0a800", "strokeWidth": 2.2}, "encoding": {"y": {"field": "b", "type": "quantitative", "scale": {"domain": [0, 151], "nice": false, "zero": false}, "axis": {"labels": false, "ticks": false, "title": "Intensity (a.u.)", "titlePadding": 4.5}}}},
  {"transform": [{"filter": "datum.s == 'D'"}], "mark": {"type": "line", "interpolate": "monotone", "color": "#2a80c2", "strokeWidth": 2.2}, "encoding": {"y": {"field": "b", "type": "quantitative", "scale": {"domain": [0, 151], "nice": false, "zero": false}, "axis": {"labels": false, "ticks": false, "title": "Intensity (a.u.)", "titlePadding": 4.5}}}},
  {"mark": {"type": "line", "interpolate": "monotone", "color": "#1f72b6", "strokeWidth": 1.4}, "encoding": {"y": {"field": "t1", "type": "quantitative", "scale": {"domain": [0, 151], "nice": false, "zero": false}, "axis": {"labels": false, "ticks": false, "title": "Intensity (a.u.)", "titlePadding": 4.5}}}},
  {"mark": {"type": "line", "interpolate": "monotone", "color": "#1f72b6", "strokeWidth": 1.4}, "encoding": {"y": {"field": "t2", "type": "quantitative", "scale": {"domain": [0, 151], "nice": false, "zero": false}, "axis": {"labels": false, "ticks": false, "title": "Intensity (a.u.)", "titlePadding": 4.5}}}},
  {"mark": {"type": "line", "interpolate": "monotone", "color": "#333", "strokeWidth": 1.2}, "encoding": {"y": {"field": "e", "type": "quantitative", "scale": {"domain": [0, 151], "nice": false, "zero": false}, "axis": {"labels": false, "ticks": false, "title": "Intensity (a.u.)", "titlePadding": 4.5}}}},
  {"mark": {"type": "point", "shape": "circle", "size": 22, "filled": false, "color": "#888", "strokeWidth": 0.8, "opacity": 0.9}, "encoding": {"y": {"field": "e", "type": "quantitative", "scale": {"domain": [0, 151], "nice": false, "zero": false}, "axis": {"labels": false, "ticks": false, "title": "Intensity (a.u.)", "titlePadding": 4.5}}}},
  {"data": {"values": [{"x": 458.64, "y1": 151, "y2": 67}, {"x": 464.39, "y1": 129, "y2": 64}]}, "mark": {"type": "rule", "color": "#f5b616", "strokeDash": [4, 3], "strokeWidth": 1.6}, "encoding": {"y": {"field": "y1", "type": "quantitative", "scale": {"domain": [0, 151], "nice": false, "zero": false}, "axis": {"labels": false, "ticks": false, "title": "Intensity (a.u.)", "titlePadding": 4.5}}, "y2": {"field": "y2"}}},
  {"data": {"values": [{"x": 458.4, "y1": 96, "y2": 24}, {"x": 464.17, "y1": 86, "y2": 17}]}, "mark": {"type": "rule", "color": "#111", "strokeDash": [4, 3], "strokeWidth": 1.4}, "encoding": {"y": {"field": "y1", "type": "quantitative", "scale": {"domain": [0, 151], "nice": false, "zero": false}, "axis": {"labels": false, "ticks": false, "title": "Intensity (a.u.)", "titlePadding": 4.5}}, "y2": {"field": "y2"}}},
  {"data": {"values": [{"x": 455.77, "y": 138.3, "t": "Light"}]}, "mark": {"type": "text", "fontSize": 12.5, "color": "#f2a52a", "baseline": "middle"}, "encoding": {"y": {"field": "y", "type": "quantitative", "scale": {"domain": [0, 151], "nice": false, "zero": false}, "axis": {"labels": false, "ticks": false, "title": "Intensity (a.u.)", "titlePadding": 4.5}}, "text": {"field": "t"}}},
  {"data": {"values": [{"x": 455.77, "y": 42.3, "t": "Dark"}]}, "mark": {"type": "text", "fontSize": 12.5, "color": "#111", "baseline": "middle"}, "encoding": {"y": {"field": "y", "type": "quantitative", "scale": {"domain": [0, 151], "nice": false, "zero": false}, "axis": {"labels": false, "ticks": false, "title": "Intensity (a.u.)", "titlePadding": 4.5}}, "text": {"field": "t"}}},
  {"data": {"values": [{"x": 461.66, "y": 125.7, "t": "Ti⁴⁺"}]}, "mark": {"type": "text", "fontSize": 12, "color": "#2b8fd0", "baseline": "middle"}, "encoding": {"y": {"field": "y", "type": "quantitative", "scale": {"domain": [0, 151], "nice": false, "zero": false}, "axis": {"labels": false, "ticks": false, "title": "Intensity (a.u.)", "titlePadding": 4.5}}, "text": {"field": "t"}}},
  {"data": {"values": [{"x": 461.66, "y": 115.7}]}, "mark": {"type": "point", "shape": "M1,0L0.45,-0.34L0.45,-0.19L-1,-0.19L-0.8,0L-1,0.19L0.45,0.19L0.45,0.34Z", "size": 1444, "filled": true, "opacity": 1, "strokeWidth": 0, "fill": {"gradient": "linear", "x1": 0, "x2": 1, "y1": 0, "y2": 0, "stops": [{"offset": 0, "color": "#1a1a1a"}, {"offset": 0.3, "color": "#777777"}, {"offset": 0.6, "color": "#f6c86a"}, {"offset": 1, "color": "#f5ae00"}]}}, "encoding": {"y": {"field": "y", "type": "quantitative", "scale": {"domain": [0, 151], "nice": false, "zero": false}, "axis": {"labels": false, "ticks": false, "title": "Intensity (a.u.)", "titlePadding": 4.5}}}}
 ]
},
{"width": 23, "height": 1, "data": {"values": []}, "mark": "point", "view": {"stroke": null}},
{
 "width": 188, "height": 147,
 "title": {"text": "C", "dx": -14},
 "data": {"name": "c"},
 "encoding": {
   "x": {"field": "x", "type": "quantitative", "scale": {"domain": [526, 536], "nice": false, "zero": false}, "axis": {"values": [526,528,530,532,534,536], "format": "d", "title": "Binding energy (eV)", "titlePadding": 2}},
   "detail": {"field": "s"}
 },
 "layer": [
  {"mark": {"type": "area", "interpolate": "monotone", "opacity": 0.95}, "encoding": {"y": {"field": "l", "type": "quantitative", "scale": {"domain": [0, 147], "nice": false, "zero": false}, "axis": {"labels": false, "ticks": false, "title": "Intensity (a.u.)", "titlePadding": 5.5}}, "y2": {"field": "b"}, "color": {"datum": "Oₗ", "type": "nominal", "scale": {"domain": ["Oₗ", "Oₕ", "Oᵥ*"], "range": ["#c9b0e3", "#93d3dc", "#e2577f"]}, "legend": {"orient": "none", "legendX": 150, "legendY": 3, "title": null, "symbolType": "M-1,-0.7H1V0.7H-1Z", "symbolSize": 144, "symbolStrokeColor": "#999", "symbolStrokeWidth": 0.6, "symbolOpacity": 1, "rowPadding": 4, "labelOffset": 4, "labelFontSize": 8}}}},
  {"mark": {"type": "area", "interpolate": "monotone", "opacity": 0.95}, "encoding": {"y": {"field": "h", "type": "quantitative", "scale": {"domain": [0, 147], "nice": false, "zero": false}, "axis": {"labels": false, "ticks": false, "title": "Intensity (a.u.)", "titlePadding": 5.5}}, "y2": {"field": "b"}, "color": {"datum": "Oₕ", "type": "nominal"}}},
  {"mark": {"type": "area", "interpolate": "monotone", "opacity": 0.95}, "encoding": {"y": {"field": "v", "type": "quantitative", "scale": {"domain": [0, 147], "nice": false, "zero": false}, "axis": {"labels": false, "ticks": false, "title": "Intensity (a.u.)", "titlePadding": 5.5}}, "y2": {"field": "b"}, "color": {"datum": "Oᵥ*", "type": "nominal"}}},
  {"mark": {"type": "line", "interpolate": "monotone", "color": "#5b2a9c", "strokeWidth": 1.4}, "encoding": {"y": {"field": "l", "type": "quantitative", "scale": {"domain": [0, 147], "nice": false, "zero": false}, "axis": {"labels": false, "ticks": false, "title": "Intensity (a.u.)", "titlePadding": 5.5}}}},
  {"mark": {"type": "line", "interpolate": "monotone", "color": "#147f8f", "strokeWidth": 1.4}, "encoding": {"y": {"field": "h", "type": "quantitative", "scale": {"domain": [0, 147], "nice": false, "zero": false}, "axis": {"labels": false, "ticks": false, "title": "Intensity (a.u.)", "titlePadding": 5.5}}}},
  {"mark": {"type": "line", "interpolate": "monotone", "color": "#d03c6b", "strokeWidth": 1.2}, "encoding": {"y": {"field": "v", "type": "quantitative", "scale": {"domain": [0, 147], "nice": false, "zero": false}, "axis": {"labels": false, "ticks": false, "title": "Intensity (a.u.)", "titlePadding": 5.5}}}},
  {"mark": {"type": "line", "interpolate": "monotone", "color": "#333", "strokeWidth": 1.2}, "encoding": {"y": {"field": "e", "type": "quantitative", "scale": {"domain": [0, 147], "nice": false, "zero": false}, "axis": {"labels": false, "ticks": false, "title": "Intensity (a.u.)", "titlePadding": 5.5}}}},
  {"mark": {"type": "point", "shape": "circle", "size": 22, "filled": false, "color": "#888", "strokeWidth": 0.8, "opacity": 0.9}, "encoding": {"y": {"field": "e", "type": "quantitative", "scale": {"domain": [0, 147], "nice": false, "zero": false}, "axis": {"labels": false, "ticks": false, "title": "Intensity (a.u.)", "titlePadding": 5.5}}}},
  {"data": {"values": [{"x": 529.85, "y1": 147, "y2": 72}]}, "mark": {"type": "rule", "color": "#f5b616", "strokeDash": [4, 3], "strokeWidth": 1.6}, "encoding": {"y": {"field": "y1", "type": "quantitative", "scale": {"domain": [0, 147], "nice": false, "zero": false}, "axis": {"labels": false, "ticks": false, "title": "Intensity (a.u.)", "titlePadding": 5.5}}, "y2": {"field": "y2"}}},
  {"data": {"values": [{"x": 529.62, "y1": 87, "y2": 30}]}, "mark": {"type": "rule", "color": "#111", "strokeDash": [4, 3], "strokeWidth": 1.4}, "encoding": {"y": {"field": "y1", "type": "quantitative", "scale": {"domain": [0, 147], "nice": false, "zero": false}, "axis": {"labels": false, "ticks": false, "title": "Intensity (a.u.)", "titlePadding": 5.5}}, "y2": {"field": "y2"}}},
  {"data": {"values": [{"x": 531.34, "y": 90, "t": "17%"}, {"x": 531.34, "y": 12, "t": "17%"}]}, "mark": {"type": "text", "fontSize": 10.5, "color": "#7e1426", "baseline": "middle"}, "encoding": {"y": {"field": "y", "type": "quantitative", "scale": {"domain": [0, 147], "nice": false, "zero": false}, "axis": {"labels": false, "ticks": false, "title": "Intensity (a.u.)", "titlePadding": 5.5}}, "text": {"field": "t"}}},
  {"data": {"values": [{"x": 527.3, "y": 132.5, "t": "O"}]}, "mark": {"type": "text", "fontSize": 14, "color": "#6a3fb0", "baseline": "middle"}, "encoding": {"y": {"field": "y", "type": "quantitative", "scale": {"domain": [0, 147], "nice": false, "zero": false}, "axis": {"labels": false, "ticks": false, "title": "Intensity (a.u.)", "titlePadding": 5.5}}, "text": {"field": "t"}}},
  {"data": {"values": [{"x": 527.68, "y": 128.5, "t": "L"}]}, "mark": {"type": "text", "fontSize": 7, "color": "#6a3fb0", "baseline": "middle"}, "encoding": {"y": {"field": "y", "type": "quantitative", "scale": {"domain": [0, 147], "nice": false, "zero": false}, "axis": {"labels": false, "ticks": false, "title": "Intensity (a.u.)", "titlePadding": 5.5}}, "text": {"field": "t"}}},
  {"data": {"values": [{"x": 527.63, "y": 112}]}, "mark": {"type": "point", "shape": "M1,0L0.45,-0.34L0.45,-0.19L-1,-0.19L-0.8,0L-1,0.19L0.45,0.19L0.45,0.34Z", "size": 1444, "filled": true, "opacity": 1, "strokeWidth": 0, "fill": {"gradient": "linear", "x1": 0, "x2": 1, "y1": 0, "y2": 0, "stops": [{"offset": 0, "color": "#1a1a1a"}, {"offset": 0.3, "color": "#777777"}, {"offset": 0.6, "color": "#f6c86a"}, {"offset": 1, "color": "#f5ae00"}]}}, "encoding": {"y": {"field": "y", "type": "quantitative", "scale": {"domain": [0, 147], "nice": false, "zero": false}, "axis": {"labels": false, "ticks": false, "title": "Intensity (a.u.)", "titlePadding": 5.5}}}}
 ]
},
{
 "width": 191, "height": 150,
 "title": {"text": "D", "dx": -16},
 "encoding": {
   "x": {"field": "t", "type": "quantitative", "scale": {"domain": [0, 215], "nice": false, "zero": false}, "axis": {"values": [0,40,80,120,160,200], "format": "d", "title": "Times", "labelPadding": 6, "titlePadding": 2}}
 },
 "layer": [
  {"data": {"name": "d"}, "mark": {"type": "line", "strokeWidth": 1.1}, "encoding": {"y": {"field": "j", "type": "quantitative", "scale": {"domain": [0, 5], "nice": false, "zero": false}, "axis": {"labels": false, "ticks": false, "title": "Photocurrent density (μA/cm²)", "titlePadding": 5}}, "color": {"field": "s", "type": "nominal", "scale": {"domain": ["TS", "Ru-TS (0.5%)", "Ru-TS (1.0%)", "Ru-TS (1.5%)", "Ru-TS (2.0%)"], "range": ["#3a3a3a", "#36a6b5", "#f2b01e", "#cc1f3a", "#8f86d6"]}, "legend": {"orient": "none", "legendX": 110.5, "legendY": 5.5, "title": null, "symbolType": "M-2,0L2,0", "symbolSize": 81, "symbolStrokeWidth": 1.5, "rowPadding": 0, "labelOffset": 6.5}}}},
  {"data": {"values": [{"t": 6.7, "t2": 6.7, "y1": 4.0, "y2": 4.5}, {"t": 4.9, "t2": 8.5, "y1": 4.5, "y2": 4.5}, {"t": 4.9, "t2": 8.5, "y1": 4.0, "y2": 4.0}]}, "mark": {"type": "rule", "color": "#111", "strokeWidth": 1}, "encoding": {"x2": {"field": "t2"}, "y": {"field": "y1", "type": "quantitative", "scale": {"domain": [0, 5], "nice": false, "zero": false}, "axis": {"labels": false, "ticks": false, "title": "Photocurrent density (μA/cm²)", "titlePadding": 5}}, "y2": {"field": "y2"}}},
  {"data": {"values": [{"t": 9.5, "y": 4.22, "txt": "0.5 μA/cm²"}]}, "mark": {"type": "text", "fontSize": 8, "color": "#111", "align": "left", "baseline": "middle"}, "encoding": {"y": {"field": "y", "type": "quantitative", "scale": {"domain": [0, 5], "nice": false, "zero": false}, "axis": {"labels": false, "ticks": false, "title": "Photocurrent density (μA/cm²)", "titlePadding": 5}}, "text": {"field": "txt"}}}
 ]
},
{"width": 15, "height": 1, "data": {"values": []}, "mark": "point", "view": {"stroke": null}},
{
 "width": 192, "height": 153,
 "title": {"text": "E", "dx": -12},
 "data": {"name": "e"},
 "mark": {"type": "square", "size": 14, "opacity": 1},
 "encoding": {
   "x": {"field": "x", "type": "quantitative", "scale": {"domain": [0, 192], "nice": false, "zero": false}, "axis": {"labels": false, "ticks": false, "title": "Z' (ohm)", "titlePadding": 4}},
   "y": {"field": "y", "type": "quantitative", "scale": {"domain": [0, 153], "nice": false, "zero": false}, "axis": {"labels": false, "ticks": false, "title": "-Z'' (ohm)", "titlePadding": 2}},
   "color": {"field": "s", "type": "nominal", "scale": {"domain": ["TS", "Ru-TS (0.5%)", "Ru-TS (1.0%)", "Ru-TS (1.5%)", "Ru-TS (2.0%)"], "range": ["#222222", "#33aee6", "#f4a31c", "#d92060", "#8a7fd6"]}, "legend": {"orient": "none", "legendX": 120.7, "legendY": 4.25, "title": null, "symbolType": "square", "symbolSize": 16, "rowPadding": 3.5, "labelOffset": 8}}
 }
},
{"width": 23, "height": 1, "data": {"values": []}, "mark": "point", "view": {"stroke": null}},
{
 "width": 188, "height": 152,
 "title": {"text": "F", "dx": -14},
 "encoding": {
   "x": {"field": "t", "type": "quantitative", "scale": {"domain": [0, 50], "nice": false, "zero": false}, "axis": {"values": [0,10,20,30,40,50], "format": "d", "title": "Times (ns)", "labelPadding": 6, "titlePadding": 2}}
 },
 "layer": [
  {"data": {"name": "irf"}, "mark": {"type": "area", "color": "#7fd0e6", "opacity": 0.45}, "encoding": {"y": {"field": "hi", "type": "quantitative", "scale": {"type": "log", "domain": [1, 6300], "nice": false}, "axis": {"values": [1, 10, 100, 1000], "format": "d", "title": "Counts", "tickSize": 2.5, "labelPadding": 1.5, "titlePadding": 3}}, "y2": {"field": "lo"}}},
  {"data": {"name": "f"}, "mark": {"type": "line", "strokeWidth": 1.1}, "encoding": {"y": {"field": "c", "type": "quantitative", "scale": {"type": "log", "domain": [1, 6300], "nice": false}, "axis": {"values": [1, 10, 100, 1000], "format": "d", "title": "Counts", "tickSize": 2.5, "labelPadding": 1.5, "titlePadding": 3}}, "color": {"field": "s", "type": "nominal", "scale": {"domain": ["TS", "Ru-TS (0.5%)", "Ru-TS (1.0%)", "Ru-TS (1.5%)", "Ru-TS (2.0%)"], "range": ["#333333", "#3ba1c4", "#f2b21e", "#c4243f", "#9080cc"]}, "legend": {"orient": "none", "legendX": 92, "legendY": 34.7, "title": null, "symbolType": "M-2,0L2,0", "symbolSize": 100, "symbolStrokeWidth": 1.5, "rowPadding": 0.8, "labelOffset": 5}}}}
 ]
}
]
}
